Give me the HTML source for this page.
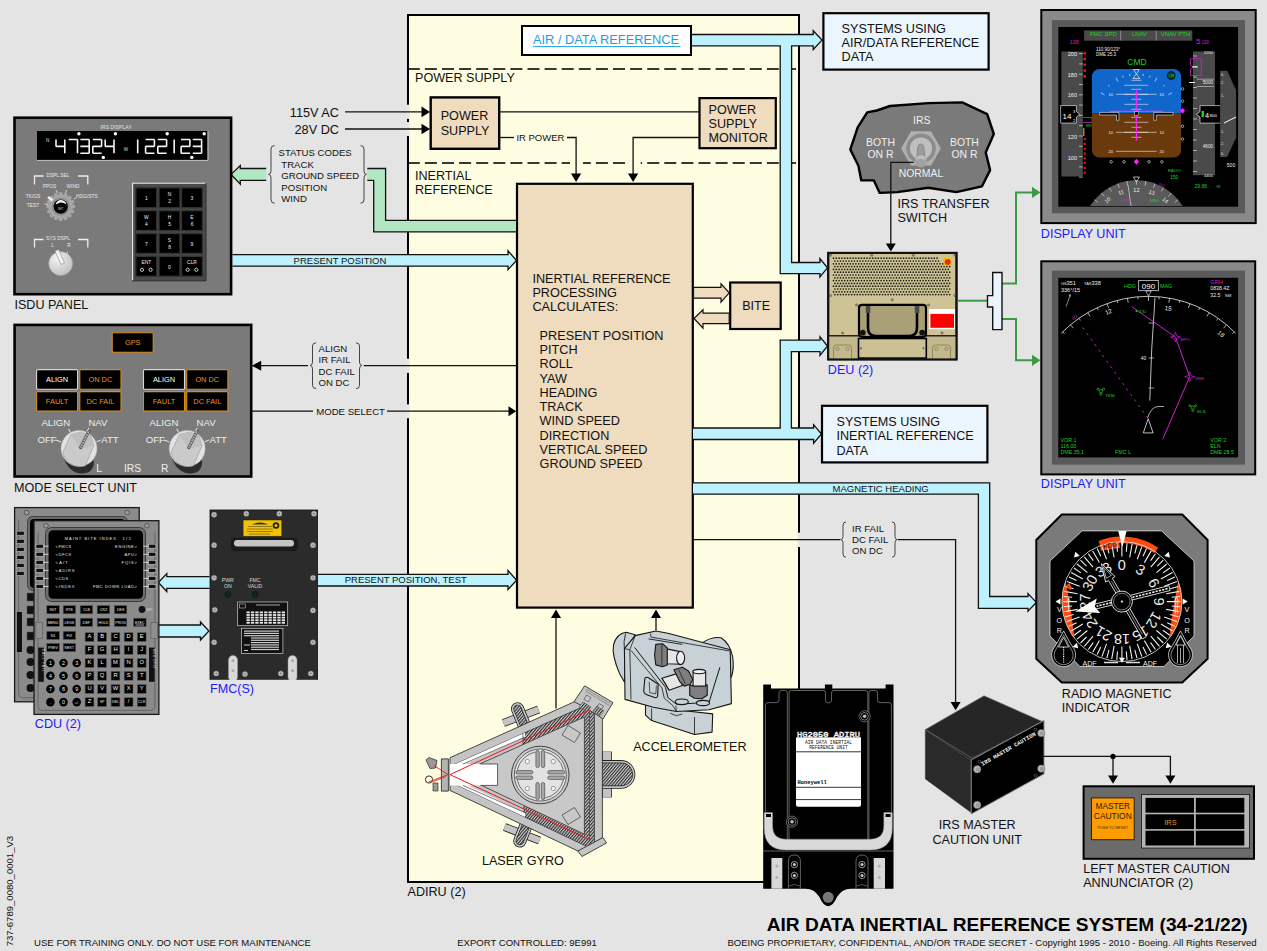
<!DOCTYPE html>
<html><head><meta charset="utf-8">
<style>
html,body{margin:0;padding:0;background:#e4e4e4;}
svg{display:block;}

</style></head>
<body>
<svg width="1267" height="951" viewBox="0 0 1267 951" font-family="&quot;Liberation Sans&quot;, sans-serif">
<rect x="0" y="0" width="1267" height="951" fill="#e4e4e4"/>

<!-- ===== ADIRU BOX ===== -->
<rect x="408" y="15" width="391" height="867" fill="#fffde1" stroke="#000" stroke-width="2"/>
<!-- border gaps -->
<g fill="#e7e7e5">
<rect x="406" y="104.7" width="3.6" height="14.2"/>
<rect x="406" y="122.1" width="3.6" height="13.9"/>
<rect x="406" y="358.7" width="3.6" height="14.2"/>
<rect x="406" y="404.4" width="3.6" height="13.8"/>
<rect x="797.5" y="532.6" width="3.6" height="14.5"/>
</g>
<line x1="409" y1="69" x2="798" y2="69" stroke="#383830" stroke-width="2" stroke-dasharray="12 5.1" stroke-dashoffset="1.2"/>
<line x1="409" y1="163" x2="798" y2="163" stroke="#383830" stroke-width="2" stroke-dasharray="12 5.1" stroke-dashoffset="1.2"/>
<rect x="570" y="161" width="13" height="4" fill="#fffde1"/><rect x="625.8" y="161" width="14.9" height="4" fill="#fffde1"/>
<g font-size="12.6" fill="#111">
<text x="415" y="82.3">POWER SUPPLY</text>
<text x="415" y="179.6">INERTIAL</text>
<text x="415" y="193.5">REFERENCE</text>
<text x="407.5" y="896.3">ADIRU (2)</text>
</g>

<!-- AIR / DATA REFERENCE -->
<rect x="522" y="26" width="169" height="29" fill="#fff" stroke="#000" stroke-width="2"/>
<text x="533" y="43.8" font-size="12.8" fill="#1e9ee0">AIR / DATA REFERENCE</text>
<line x1="533" y1="46.6" x2="680.5" y2="46.6" stroke="#1e9ee0" stroke-width="1"/>

<!-- power supply -->
<rect x="430.7" y="97.4" width="68.5" height="51.4" fill="#efdbbd" stroke="#000" stroke-width="2.4"/>
<g font-size="12.6" fill="#111">
<text x="440.7" y="119.8">POWER</text>
<text x="440.7" y="135">SUPPLY</text>
</g>
<rect x="699.5" y="98.1" width="76.3" height="50.1" fill="#efdbbd" stroke="#000" stroke-width="2.2"/>
<g font-size="12.6" fill="#111">
<text x="708.5" y="113.5">POWER</text>
<text x="708.5" y="127.7">SUPPLY</text>
<text x="708.5" y="141.7">MONITOR</text>
</g>
<line x1="500" y1="111.8" x2="699" y2="111.8" stroke="#111" stroke-width="1.3"/>
<polyline points="500,137.5 514,137.5" fill="none" stroke="#111" stroke-width="1.3"/>
<text x="516.4" y="141" font-size="9.5" fill="#111">IR POWER</text>
<polyline points="567,137.5 576.1,137.5 576.1,174" fill="none" stroke="#111" stroke-width="1.3"/>
<polygon points="571,173.5 581.2,173.5 576.1,182" fill="#000"/>
<polyline points="699,137.5 633.1,137.5 633.1,174" fill="none" stroke="#111" stroke-width="1.3"/>
<polygon points="628,173.5 638.2,173.5 633.1,182" fill="#000"/>

<!-- 115V / 28V -->
<g font-size="12.7" fill="#111" text-anchor="end">
<text x="339" y="116.8">115V AC</text>
<text x="339" y="134">28V DC</text>
</g>
<line x1="345" y1="111.9" x2="422" y2="111.9" stroke="#111" stroke-width="1.3"/>
<polygon points="421.5,106.6 421.5,117.2 430,111.9" fill="#000"/>
<line x1="345" y1="129" x2="422" y2="129" stroke="#111" stroke-width="1.3"/>
<polygon points="421.5,123.7 421.5,134.3 430,129" fill="#000"/>

<!-- main IR box -->
<rect x="517" y="183.8" width="175.8" height="423.8" fill="#efdbbd" stroke="#000" stroke-width="2.2"/>
<g font-size="12.7" fill="#111">
<text x="532.4" y="283.1">INERTIAL REFERENCE</text>
<text x="532.4" y="297.2">PROCESSING</text>
<text x="532.4" y="311.3">CALCULATES:</text>
<text x="539.6" y="339.8">PRESENT POSITION</text>
<text x="539.6" y="354.05">PITCH</text>
<text x="539.6" y="368.3">ROLL</text>
<text x="539.6" y="382.55">YAW</text>
<text x="539.6" y="396.8">HEADING</text>
<text x="539.6" y="411.05">TRACK</text>
<text x="539.6" y="425.3">WIND SPEED</text>
<text x="539.6" y="439.55">DIRECTION</text>
<text x="539.6" y="453.8">VERTICAL SPEED</text>
<text x="539.6" y="468.05">GROUND SPEED</text>
</g>

<!-- BITE -->
<rect x="730.2" y="282.5" width="50.5" height="46.5" fill="#efdbbd" stroke="#000" stroke-width="2.2"/>
<text x="742.2" y="309.7" font-size="12.6" fill="#111">BITE</text>
<polygon points="693.5,287.3 721,287.3 721,283.8 729.2,292.8 721,302.1 721,298.2 693.5,298.2" fill="#efdbbd" stroke="#111" stroke-width="1.2"/>
<polygon points="729.2,313.2 703,313.2 703,309.7 694,318.5 703,328.2 703,323.6 729.2,323.6" fill="#efdbbd" stroke="#111" stroke-width="1.2"/>

<!-- bottom arrows into box -->
<line x1="556" y1="617" x2="556" y2="708.4" stroke="#111" stroke-width="1.3"/>
<polygon points="551,618 561,618 556,609.5" fill="#000"/>
<line x1="656" y1="617" x2="656" y2="630.3" stroke="#111" stroke-width="1.3"/>
<polygon points="651,618 661,618 656,609.5" fill="#000"/>


<!-- ===== BANDS ===== -->
<g fill="#bdf1fd" stroke="#111" stroke-width="1.3" stroke-linejoin="miter">
<path d="M692,34.5 H813.2 V30.7 L822,40.1 L813.2,49.5 V45.8 H791.6 V262.5 H819.9 V258.5 L827.5,267.8 L819.9,277 V273.6 H780.2 V45.8 H692"/>
<path d="M693,428 H780.2 V340.2 H820 V336.8 L827.5,346 L820,355.3 V351.6 H791.4 V428 H813.6 V424.7 L821.5,434 L813.6,443.2 V439.5 H693"/>
<path d="M693,482.8 H989.7 V596.5 H1028 V593.6 L1036.3,602.4 L1028,611.2 V608.4 H978.4 V494.2 H693"/>
<path d="M232.5,254.7 H508 V250.8 L516.5,260.5 L508,269.6 V266.2 H232.5"/>
<path d="M318,574.4 H508 V570.4 L516.6,580.2 L508,589.5 V586 H318"/>
<path d="M209.5,576.7 H166.8 V573.6 L158.4,582.5 L166.8,591.5 V588.3 H209.5"/>
<path d="M159,625 H200.5 V622 L208.9,631 L200.5,640 V637 H159"/>
</g>
<g fill="#b3e6c2" stroke="#111" stroke-width="1.3">
<path d="M266.2,168.5 H240.3 V165.5 L231.1,174.4 L240.3,184.2 V180.4 H266.2"/>
</g>
<path d="M367.3,168.5 H385.6 V220.4 H516 V231.9 H373.7 V180.4 H367.3 Z" fill="#b3e6c2"/>
<path d="M367.3,168.5 H385.6 V220.4 H516 M516,231.9 H373.7 V180.4 H367.3" fill="none" stroke="#111" stroke-width="1.3"/>
<g font-size="9.5" fill="#111">
<text x="293.6" y="263.9">PRESENT POSITION</text>
<text x="344.7" y="583.4">PRESENT POSITION, TEST</text>
<text x="832.6" y="491.9">MAGNETIC HEADING</text>
</g>

<!-- ===== SYSTEMS BOXES ===== -->
<rect x="823.4" y="13.2" width="165.2" height="56.4" fill="#ebf5fd" stroke="#000" stroke-width="2.2"/>
<g font-size="12.7" fill="#111">
<text x="841.6" y="32.7">SYSTEMS USING</text>
<text x="841.6" y="46.9">AIR/DATA REFERENCE</text>
<text x="841.6" y="61.1">DATA</text>
</g>
<rect x="822" y="405.8" width="165.4" height="56.6" fill="#ebf5fd" stroke="#000" stroke-width="2.2"/>
<g font-size="12.6" fill="#111">
<text x="836.5" y="425.5">SYSTEMS USING</text>
<text x="836.5" y="440">INERTIAL REFERENCE</text>
<text x="836.5" y="454.5">DATA</text>
</g>

<!-- ===== LEFT SIGNAL LABELS ===== -->
<g fill="none" stroke="#444" stroke-width="1">
<path d="M274.6,145.6 Q271,145.6 271,149 V171 Q271,174.4 268.5,174.4 Q271,174.4 271,178 V199.8 Q271,203.2 274.6,203.2"/>
<path d="M360.5,145.6 Q364,145.6 364,149 V171 Q364,174.4 366.5,174.4 Q364,174.4 364,178 V199.8 Q364,203.2 360.5,203.2"/>
<path d="M316.2,342.8 Q312.5,342.8 312.5,346 V362 Q312.5,365.4 310,365.4 Q312.5,365.4 312.5,369 V385.4 Q312.5,388.6 316.2,388.6"/>
<path d="M356,342.8 Q359.5,342.8 359.5,346 V362 Q359.5,365.4 362,365.4 Q359.5,365.4 359.5,369 V385.4 Q359.5,388.6 356,388.6"/>
<path d="M846,522 Q843,522 843,525 V536.5 Q843,539.6 840.5,539.6 Q843,539.6 843,542.5 V554 Q843,557.2 846,557.2"/>
<path d="M892,522 Q895,522 895,525 V536.5 Q895,539.6 897.5,539.6 Q895,539.6 895,542.5 V554 Q895,557.2 892,557.2"/>
</g>
<g font-size="9.6" fill="#111">
<text x="278.5" y="156.3">STATUS CODES</text>
<text x="281.3" y="167.7">TRACK</text>
<text x="281.3" y="179.1">GROUND SPEED</text>
<text x="281.3" y="190.5">POSITION</text>
<text x="281.3" y="201.9">WIND</text>
<text x="318.5" y="351.7">ALIGN</text>
<text x="318.5" y="363.1">IR FAIL</text>
<text x="318.5" y="374.9">DC FAIL</text>
<text x="318.5" y="386.4">ON DC</text>
<text x="316.2" y="415.3">MODE SELECT</text>
<text x="852" y="531.7">IR FAIL</text>
<text x="852" y="543">DC FAIL</text>
<text x="852" y="554.4">ON DC</text>
</g>
<g stroke="#111" stroke-width="1.3" fill="none">
<line x1="261" y1="365.7" x2="308" y2="365.7"/>
<line x1="363.8" y1="365.7" x2="516" y2="365.7"/>
<line x1="251.5" y1="411.2" x2="313" y2="411.2"/>
<line x1="387" y1="411.2" x2="509.5" y2="411.2"/>
<line x1="693" y1="539.6" x2="840" y2="539.6"/>
<polyline points="898,539.6 955.6,539.6 955.6,702"/>
</g>
<polygon points="251.8,365.7 261.2,360.7 261.2,370.7" fill="#000"/>
<polygon points="516.2,411.2 508.5,406.2 508.5,416.2" fill="#000"/>
<polygon points="950.6,702 960.6,702 955.6,710.2" fill="#000"/>


<!-- ===== ISDU PANEL ===== -->
<g>
<rect x="14.5" y="117.7" width="216.6" height="176.5" fill="#7a7a7a" stroke="#000" stroke-width="2.6"/>
<text x="116.1" y="128.8" font-size="5.2" fill="#e0e0e0" text-anchor="middle">IRS DISPLAY</text>
<rect x="37" y="131" width="170.6" height="29.4" fill="#000"/>
<path d="M37,160.4 H208 V131" fill="none" stroke="#c8c8c8" stroke-width="1"/>
<path d="M56.00,140.25L56.00,145.65M56.75,146.40L64.05,146.40M64.80,140.25L64.80,145.65M64.80,147.15L64.80,152.55M69.45,139.50L76.75,139.50M77.50,140.25L77.50,145.65M77.50,147.15L77.50,152.55M81.15,139.50L88.45,139.50M89.20,140.25L89.20,145.65M81.15,146.40L88.45,146.40M89.20,147.15L89.20,152.55M81.15,153.30L88.45,153.30M93.55,139.50L100.85,139.50M101.60,140.25L101.60,145.65M93.55,146.40L100.85,146.40M92.80,147.15L92.80,152.55M93.55,153.30L100.85,153.30M105.20,140.25L105.20,145.65M105.95,146.40L113.25,146.40M114.00,140.25L114.00,145.65M114.00,147.15L114.00,152.55M137.70,140.25L137.70,145.65M137.70,147.15L137.70,152.55M146.35,139.50L153.65,139.50M154.40,140.25L154.40,145.65M146.35,146.40L153.65,146.40M145.60,147.15L145.60,152.55M146.35,153.30L153.65,153.30M158.55,139.50L165.85,139.50M166.60,140.25L166.60,145.65M158.55,146.40L165.85,146.40M157.80,147.15L157.80,152.55M158.55,153.30L165.85,153.30M174.20,140.25L174.20,145.65M174.20,147.15L174.20,152.55M181.85,139.50L189.15,139.50M189.90,140.25L189.90,145.65M181.85,146.40L189.15,146.40M181.10,147.15L181.10,152.55M181.85,153.30L189.15,153.30M193.55,139.50L200.85,139.50M201.60,140.25L201.60,145.65M193.55,146.40L200.85,146.40M201.60,147.15L201.60,152.55M193.55,153.30L200.85,153.30" stroke="#f4f4f4" stroke-width="1.6" fill="none" stroke-linecap="square"/>
<circle cx="78.9" cy="133.8" r="1.7" fill="#fff"/>
<circle cx="115.4" cy="133.8" r="1.7" fill="#fff"/>
<circle cx="167.2" cy="133.8" r="1.7" fill="#fff"/>
<circle cx="204.2" cy="133.8" r="1.7" fill="#fff"/>
<circle cx="103.3" cy="157.4" r="1.7" fill="#fff"/>
<circle cx="191.8" cy="157.4" r="1.7" fill="#fff"/>
<text x="47.5" y="142" font-size="4.5" fill="#ddd" text-anchor="middle">N</text>
<text x="125.9" y="151" font-size="4.5" fill="#ddd" text-anchor="middle">W</text>
<rect x="132.3" y="183" width="73.5" height="97.6" fill="#4a4a4a"/>
<path d="M132.6,280.6 V183.3 H205.8" fill="none" stroke="#eaeaea" stroke-width="1.1"/>
<path d="M206,183 V280.8 H132.3" fill="none" stroke="#2a2a2a" stroke-width="1"/>
<rect x="135.8" y="187.8" width="21" height="20" fill="#000" stroke="#333" stroke-width="1.4"/>
<text x="146.3" y="200.0" font-size="5" fill="#eee" text-anchor="middle">1</text>
<rect x="159" y="187.8" width="21" height="20" fill="#000" stroke="#333" stroke-width="1.4"/>
<text x="169.5" y="195.8" font-size="4.9" fill="#eee" text-anchor="middle">N</text>
<text x="169.5" y="203.3" font-size="4.9" fill="#eee" text-anchor="middle">2</text>
<rect x="181.5" y="187.8" width="21" height="20" fill="#000" stroke="#333" stroke-width="1.4"/>
<text x="192.0" y="200.0" font-size="5" fill="#eee" text-anchor="middle">3</text>
<rect x="135.8" y="210.6" width="21" height="20" fill="#000" stroke="#333" stroke-width="1.4"/>
<text x="146.3" y="218.6" font-size="4.9" fill="#eee" text-anchor="middle">W</text>
<text x="146.3" y="226.1" font-size="4.9" fill="#eee" text-anchor="middle">4</text>
<rect x="159" y="210.6" width="21" height="20" fill="#000" stroke="#333" stroke-width="1.4"/>
<text x="169.5" y="218.6" font-size="4.9" fill="#eee" text-anchor="middle">H</text>
<text x="169.5" y="226.1" font-size="4.9" fill="#eee" text-anchor="middle">5</text>
<rect x="181.5" y="210.6" width="21" height="20" fill="#000" stroke="#333" stroke-width="1.4"/>
<text x="192.0" y="218.6" font-size="4.9" fill="#eee" text-anchor="middle">E</text>
<text x="192.0" y="226.1" font-size="4.9" fill="#eee" text-anchor="middle">6</text>
<rect x="135.8" y="233.5" width="21" height="20" fill="#000" stroke="#333" stroke-width="1.4"/>
<text x="146.3" y="245.7" font-size="5" fill="#eee" text-anchor="middle">7</text>
<rect x="159" y="233.5" width="21" height="20" fill="#000" stroke="#333" stroke-width="1.4"/>
<text x="169.5" y="241.5" font-size="4.9" fill="#eee" text-anchor="middle">S</text>
<text x="169.5" y="249.0" font-size="4.9" fill="#eee" text-anchor="middle">8</text>
<rect x="181.5" y="233.5" width="21" height="20" fill="#000" stroke="#333" stroke-width="1.4"/>
<text x="192.0" y="245.7" font-size="5" fill="#eee" text-anchor="middle">9</text>
<rect x="135.8" y="256.3" width="21" height="20" fill="#000" stroke="#333" stroke-width="1.4"/>
<text x="146.3" y="263.8" font-size="4.9" fill="#eee" text-anchor="middle">ENT</text>
<circle cx="142.0" cy="269.8" r="1.6" fill="none" stroke="#ddd" stroke-width="0.9"/>
<circle cx="150.60000000000002" cy="269.8" r="1.6" fill="none" stroke="#ddd" stroke-width="0.9"/>
<rect x="159" y="256.3" width="21" height="20" fill="#000" stroke="#333" stroke-width="1.4"/>
<text x="169.5" y="268.5" font-size="5" fill="#eee" text-anchor="middle">0</text>
<rect x="181.5" y="256.3" width="21" height="20" fill="#000" stroke="#333" stroke-width="1.4"/>
<text x="192.0" y="263.8" font-size="4.9" fill="#eee" text-anchor="middle">CLR</text>
<circle cx="187.7" cy="269.8" r="1.6" fill="none" stroke="#ddd" stroke-width="0.9"/>
<circle cx="196.3" cy="269.8" r="1.6" fill="none" stroke="#ddd" stroke-width="0.9"/>
<g fill="none" stroke="#eee" stroke-width="1.3"><polyline points="34.5,184.5 34.5,176 43.5,176"/><polyline points="78,176 87.8,176 87.8,184.5"/>
<polyline points="34.5,247.5 34.5,239.5 43.5,239.5"/><polyline points="78,239.5 87.8,239.5 87.8,247.5"/></g>
<g font-size="4.9" fill="#e8e8e8" text-anchor="middle">
<text x="58" y="176.7">DSPL SEL</text><text x="49.5" y="187.5">PPOS</text><text x="73" y="187.5">WIND</text>
<text x="33" y="197.5">TK/GS</text><text x="86.8" y="197.5">HDG/STS</text><text x="33" y="206.7">TEST</text>
<text x="58" y="240.2">SYS DSPL</text><text x="52.5" y="246.8">L</text><text x="69" y="246.8">R</text></g>
<circle cx="73.30" cy="206.60" r="2" fill="#a6a6a6"/><circle cx="72.34" cy="211.42" r="2" fill="#a6a6a6"/><circle cx="69.61" cy="215.51" r="2" fill="#a6a6a6"/><circle cx="65.52" cy="218.24" r="2" fill="#a6a6a6"/><circle cx="60.70" cy="219.20" r="2" fill="#a6a6a6"/><circle cx="55.88" cy="218.24" r="2" fill="#a6a6a6"/><circle cx="51.79" cy="215.51" r="2" fill="#a6a6a6"/><circle cx="49.06" cy="211.42" r="2" fill="#a6a6a6"/><circle cx="48.10" cy="206.60" r="2" fill="#a6a6a6"/><circle cx="49.06" cy="201.78" r="2" fill="#a6a6a6"/><circle cx="51.79" cy="197.69" r="2" fill="#a6a6a6"/><circle cx="55.88" cy="194.96" r="2" fill="#a6a6a6"/><circle cx="60.70" cy="194.00" r="2" fill="#a6a6a6"/><circle cx="65.52" cy="194.96" r="2" fill="#a6a6a6"/><circle cx="69.61" cy="197.69" r="2" fill="#a6a6a6"/><circle cx="72.34" cy="201.78" r="2" fill="#a6a6a6"/>
<circle cx="60.7" cy="206.6" r="12" fill="#a6a6a6"/>
<circle cx="60.7" cy="206.6" r="9.2" fill="#8c8c8c"/>
<circle cx="60.7" cy="206.6" r="7.6" fill="#050505" stroke="#c8c8c8" stroke-width="0.6"/>
<path d="M55.5,204.5 Q57,199.5 61.5,200 Q65.5,200.5 66.5,204.5 Q63,202 60.5,202.5 Z" fill="#f0f0f0"/>
<text x="60.7" y="209.5" font-size="2.8" fill="#bbb" text-anchor="middle">BRT</text>
<line x1="52.5" y1="200.5" x2="48" y2="197" stroke="#f2f2f2" stroke-width="2.4"/>
<line x1="56" y1="190" x2="57.5" y2="193" stroke="#eee" stroke-width="0.8"/>
<line x1="66.5" y1="190" x2="65.5" y2="193" stroke="#eee" stroke-width="0.8"/>
<line x1="44.5" y1="203.8" x2="48.3" y2="204.5" stroke="#eee" stroke-width="0.8"/>
<line x1="74" y1="199" x2="76.5" y2="197.5" stroke="#eee" stroke-width="0.8"/>
<defs><radialGradient id="knobg" cx="0.35" cy="0.3" r="0.8"><stop offset="0" stop-color="#f2f2f2"/><stop offset="1" stop-color="#bdbdbd"/></radialGradient></defs>
<circle cx="60.7" cy="263.6" r="12" fill="url(#knobg)" stroke="#999" stroke-width="0.6"/>
<path d="M55,251 L58.5,249.5 L64.5,263 L61,264.5 Z" fill="#f4f4f4" stroke="#888" stroke-width="0.6"/>
<line x1="68" y1="251.5" x2="66.6" y2="254" stroke="#eee" stroke-width="0.8"/>
</g>
<!-- ===== MODE SELECT UNIT ===== -->
<g>
<rect x="14.6" y="324.9" width="236.6" height="151.6" fill="#7a7a7a" stroke="#000" stroke-width="2.6"/>
<rect x="112.2" y="332.8" width="40.999999999999986" height="19.5" rx="1" fill="#000" stroke="#d98a1c" stroke-width="1.1"/><text x="132.7" y="345.2" font-size="7.4" fill="#e8941e" text-anchor="middle">GPS</text>
<rect x="36.6" y="369.6" width="40.99999999999999" height="19.599999999999966" rx="1" fill="#000" stroke="#d8d8d8" stroke-width="1.1"/><text x="57.1" y="382.1" font-size="7.4" fill="#fff" text-anchor="middle">ALIGN</text>
<rect x="79.80000000000001" y="369.6" width="41.19999999999999" height="19.599999999999966" rx="1" fill="#000" stroke="#d98a1c" stroke-width="1.1"/><text x="100.4" y="382.1" font-size="7.4" fill="#e8941e" text-anchor="middle">ON DC</text>
<rect x="36.6" y="391.6" width="40.99999999999999" height="19.399999999999977" rx="1" fill="#000" stroke="#d98a1c" stroke-width="1.1"/><text x="57.1" y="404.0" font-size="7.4" fill="#e8941e" text-anchor="middle">FAULT</text>
<rect x="79.80000000000001" y="391.6" width="41.19999999999999" height="19.399999999999977" rx="1" fill="#000" stroke="#d98a1c" stroke-width="1.1"/><text x="100.4" y="404.0" font-size="7.4" fill="#e8941e" text-anchor="middle">DC FAIL</text>
<rect x="143.5" y="369.6" width="41.0" height="19.599999999999966" rx="1" fill="#000" stroke="#d8d8d8" stroke-width="1.1"/><text x="164.0" y="382.1" font-size="7.4" fill="#fff" text-anchor="middle">ALIGN</text>
<rect x="186.7" y="369.6" width="41.20000000000002" height="19.599999999999966" rx="1" fill="#000" stroke="#d98a1c" stroke-width="1.1"/><text x="207.3" y="382.1" font-size="7.4" fill="#e8941e" text-anchor="middle">ON DC</text>
<rect x="143.5" y="391.6" width="41.0" height="19.399999999999977" rx="1" fill="#000" stroke="#d98a1c" stroke-width="1.1"/><text x="164.0" y="404.0" font-size="7.4" fill="#e8941e" text-anchor="middle">FAULT</text>
<rect x="186.7" y="391.6" width="41.20000000000002" height="19.399999999999977" rx="1" fill="#000" stroke="#d98a1c" stroke-width="1.1"/><text x="207.3" y="404.0" font-size="7.4" fill="#e8941e" text-anchor="middle">DC FAIL</text>
<defs><linearGradient id="msuk" x1="0" y1="0" x2="1" y2="1"><stop offset="0" stop-color="#ececec"/><stop offset="1" stop-color="#c4c4c4"/></linearGradient></defs>
<path d="M63,456.4 Q69,473.4 82,473.4 Q93,473.4 94,462.4 L91,454.4 Z" fill="#2c2c2c"/>
<circle cx="79" cy="448.4" r="18" fill="#e2e2e2" stroke="#b0b0b0" stroke-width="0.5"/>
<path d="M62.8,452.59999999999997 L71,434.5 L81.3,432.09999999999997 L90.8,435.29999999999995 L93.9,445.5 L85.2,465.9 A18,18 0 0 1 62.8,452.59999999999997 Z" fill="#cacaca" stroke="#8a8a8a" stroke-width="0.5"/>
<path d="M71,434.5 L81.3,432.09999999999997 L90.8,435.29999999999995 L93.9,445.5 L80.5,449.0 Z" fill="#bfbfbf"/>
<path d="M79.2,447.9 L88.2,429.9 L90.2,430.9 L81.2,448.9 Z" fill="#f4f4f4" stroke="#222" stroke-width="0.7"/>
<line x1="80.2" y1="448.4" x2="89.2" y2="430.4" stroke="#111" stroke-width="1" stroke-dasharray="1 0.8"/>
<g font-size="9.6" fill="#eee"><text x="41.4" y="426.2">ALIGN</text><text x="88.4" y="426.2">NAV</text><text x="37.5" y="442.79999999999995">OFF</text><text x="101.3" y="442.79999999999995">ATT</text></g>
<g stroke="#eee" stroke-width="1"><line x1="68.5" y1="428.9" x2="70.5" y2="432.4"/><line x1="88.8" y1="427.9" x2="87.2" y2="431.4"/><line x1="55.5" y1="439.9" x2="61" y2="441.9"/><line x1="101" y1="439.9" x2="96.5" y2="441.9"/></g>
<path d="M171.2,456.4 Q177.2,473.4 190.2,473.4 Q201.2,473.4 202.2,462.4 L199.2,454.4 Z" fill="#2c2c2c"/>
<circle cx="187.2" cy="448.4" r="18" fill="#e2e2e2" stroke="#b0b0b0" stroke-width="0.5"/>
<path d="M171.0,452.59999999999997 L179.2,434.5 L189.5,432.09999999999997 L199.0,435.29999999999995 L202.1,445.5 L193.39999999999998,465.9 A18,18 0 0 1 171.0,452.59999999999997 Z" fill="#cacaca" stroke="#8a8a8a" stroke-width="0.5"/>
<path d="M179.2,434.5 L189.5,432.09999999999997 L199.0,435.29999999999995 L202.1,445.5 L188.7,449.0 Z" fill="#bfbfbf"/>
<path d="M187.39999999999998,447.9 L196.39999999999998,429.9 L198.39999999999998,430.9 L189.39999999999998,448.9 Z" fill="#f4f4f4" stroke="#222" stroke-width="0.7"/>
<line x1="188.39999999999998" y1="448.4" x2="197.39999999999998" y2="430.4" stroke="#111" stroke-width="1" stroke-dasharray="1 0.8"/>
<g font-size="9.6" fill="#eee"><text x="149.6" y="426.2">ALIGN</text><text x="196.6" y="426.2">NAV</text><text x="145.7" y="442.79999999999995">OFF</text><text x="209.5" y="442.79999999999995">ATT</text></g>
<g stroke="#eee" stroke-width="1"><line x1="176.7" y1="428.9" x2="178.7" y2="432.4"/><line x1="197.0" y1="427.9" x2="195.39999999999998" y2="431.4"/><line x1="163.7" y1="439.9" x2="169.2" y2="441.9"/><line x1="209.2" y1="439.9" x2="204.7" y2="441.9"/></g>
<g font-size="10.3" fill="#eee"><text x="96.3" y="472">L</text><text x="124" y="472">IRS</text><text x="161" y="472">R</text></g>
</g>
<!-- ===== CDU ===== -->
<g>
<rect x="14.6" y="507.6" width="124.6" height="194.19999999999993" fill="#8b8b8b" stroke="#1a1a1a" stroke-width="1.3"/>
<path d="M18.6,519.6 V693.8 Q18.6,697.8 22.6,697.8 H131.2 Q135.2,697.8 135.2,693.8 V519.6" fill="none" stroke="#555" stroke-width="0.7"/>
<circle cx="26.6" cy="512.6" r="2.3" fill="#9a9a9a" stroke="#333" stroke-width="0.6"/>
<circle cx="127.19999999999999" cy="512.6" r="2.3" fill="#9a9a9a" stroke="#333" stroke-width="0.6"/>
<rect x="27.5" y="516.5" width="100" height="74" rx="5" fill="#6a6a6a" stroke="#333" stroke-width="0.8"/>
<rect x="30" y="519" width="95" height="69" rx="4" fill="#000"/>
<rect x="16.8" y="531.2" width="7.4" height="4" fill="#111" stroke="#bbb" stroke-width="0.6"/>
<rect x="16.8" y="539.25" width="7.4" height="4" fill="#111" stroke="#bbb" stroke-width="0.6"/>
<rect x="16.8" y="547.3000000000001" width="7.4" height="4" fill="#111" stroke="#bbb" stroke-width="0.6"/>
<rect x="16.8" y="555.35" width="7.4" height="4" fill="#111" stroke="#bbb" stroke-width="0.6"/>
<rect x="16.8" y="563.4000000000001" width="7.4" height="4" fill="#111" stroke="#bbb" stroke-width="0.6"/>
<rect x="16.8" y="571.45" width="7.4" height="4" fill="#111" stroke="#bbb" stroke-width="0.6"/>
<rect x="27" y="593" width="7" height="8" fill="#111" stroke="#555" stroke-width="0.5"/>
<rect x="27" y="606" width="7" height="8" fill="#111" stroke="#555" stroke-width="0.5"/>
<rect x="27" y="618" width="7" height="8" fill="#111" stroke="#555" stroke-width="0.5"/>
<rect x="27" y="632" width="7" height="8" fill="#111" stroke="#555" stroke-width="0.5"/>
<circle cx="30.5" cy="650" r="4" fill="#111"/>
<circle cx="30.5" cy="662" r="4" fill="#111"/>
<circle cx="30.5" cy="675" r="4" fill="#111"/>
<circle cx="30.5" cy="688" r="4" fill="#111"/>
<rect x="17" y="612" width="5" height="40" fill="#111"/>
<rect x="34" y="520.7" width="124.9" height="193.69999999999993" fill="#8b8b8b" stroke="#1a1a1a" stroke-width="1.3"/>
<path d="M38,532.7 V706.4 Q38,710.4 42,710.4 H150.9 Q154.9,710.4 154.9,706.4 V532.7" fill="none" stroke="#555" stroke-width="0.7"/>
<circle cx="46" cy="525.7" r="2.3" fill="#9a9a9a" stroke="#333" stroke-width="0.6"/>
<circle cx="146.9" cy="525.7" r="2.3" fill="#9a9a9a" stroke="#333" stroke-width="0.6"/>
<rect x="45.5" y="527.5" width="100" height="74" rx="6" fill="#6e6e6e" stroke="#2a2a2a" stroke-width="0.8"/>
<rect x="48.5" y="530.3" width="94.5" height="68.5" rx="4.5" fill="#000"/>
<rect x="36" y="544.2" width="7.4" height="4" fill="#111" stroke="#ccc" stroke-width="0.6"/>
<rect x="148.5" y="544.2" width="7.4" height="4" fill="#111" stroke="#ccc" stroke-width="0.6"/>
<rect x="36" y="552.25" width="7.4" height="4" fill="#111" stroke="#ccc" stroke-width="0.6"/>
<rect x="148.5" y="552.25" width="7.4" height="4" fill="#111" stroke="#ccc" stroke-width="0.6"/>
<rect x="36" y="560.3000000000001" width="7.4" height="4" fill="#111" stroke="#ccc" stroke-width="0.6"/>
<rect x="148.5" y="560.3000000000001" width="7.4" height="4" fill="#111" stroke="#ccc" stroke-width="0.6"/>
<rect x="36" y="568.35" width="7.4" height="4" fill="#111" stroke="#ccc" stroke-width="0.6"/>
<rect x="148.5" y="568.35" width="7.4" height="4" fill="#111" stroke="#ccc" stroke-width="0.6"/>
<rect x="36" y="576.4000000000001" width="7.4" height="4" fill="#111" stroke="#ccc" stroke-width="0.6"/>
<rect x="148.5" y="576.4000000000001" width="7.4" height="4" fill="#111" stroke="#ccc" stroke-width="0.6"/>
<rect x="36" y="584.45" width="7.4" height="4" fill="#111" stroke="#ccc" stroke-width="0.6"/>
<rect x="148.5" y="584.45" width="7.4" height="4" fill="#111" stroke="#ccc" stroke-width="0.6"/>
<g font-size="4" fill="#e4e4e4">
<text x="64.7" y="539.8" textLength="51.3" lengthAdjust="spacing">MAINT BITE INDEX</text><text x="122.5" y="539.8" textLength="8.6" lengthAdjust="spacing">1/1</text>
<text x="55.6" y="548.0" textLength="15.6" lengthAdjust="spacing">&lt;FMCS</text>
<text x="115.1" y="548.0" textLength="21.7" lengthAdjust="spacing">ENGINE&gt;</text>
<text x="55.6" y="556.0" textLength="15.6" lengthAdjust="spacing">&lt;DFCS</text>
<text x="124.6" y="556.0" textLength="12.2" lengthAdjust="spacing">APU&gt;</text>
<text x="55.6" y="564.0" textLength="12.2" lengthAdjust="spacing">&lt;A/T</text>
<text x="121.6" y="564.0" textLength="15.2" lengthAdjust="spacing">FQIS&gt;</text>
<text x="55.6" y="572.0" textLength="18.7" lengthAdjust="spacing">&lt;ADIRS</text>
<text x="55.6" y="580.0" textLength="12.6" lengthAdjust="spacing">&lt;CDS</text>
<text x="55.6" y="588.0" textLength="18.7" lengthAdjust="spacing">&lt;INDEX</text>
<text x="93.0" y="588.0" textLength="43.8" lengthAdjust="spacing">FMC DOWN LOAD&gt;</text>
</g>
<line x1="43.5" y1="546.2" x2="48.5" y2="546.2" stroke="#eee" stroke-width="0.8"/><line x1="143.5" y1="546.2" x2="148.5" y2="546.2" stroke="#eee" stroke-width="0.8"/>
<line x1="43.5" y1="554.25" x2="48.5" y2="554.25" stroke="#eee" stroke-width="0.8"/><line x1="143.5" y1="554.25" x2="148.5" y2="554.25" stroke="#eee" stroke-width="0.8"/>
<line x1="43.5" y1="562.3000000000001" x2="48.5" y2="562.3000000000001" stroke="#eee" stroke-width="0.8"/><line x1="143.5" y1="562.3000000000001" x2="148.5" y2="562.3000000000001" stroke="#eee" stroke-width="0.8"/>
<line x1="43.5" y1="570.35" x2="48.5" y2="570.35" stroke="#eee" stroke-width="0.8"/><line x1="143.5" y1="570.35" x2="148.5" y2="570.35" stroke="#eee" stroke-width="0.8"/>
<line x1="43.5" y1="578.4000000000001" x2="48.5" y2="578.4000000000001" stroke="#eee" stroke-width="0.8"/><line x1="143.5" y1="578.4000000000001" x2="148.5" y2="578.4000000000001" stroke="#eee" stroke-width="0.8"/>
<line x1="43.5" y1="586.45" x2="48.5" y2="586.45" stroke="#eee" stroke-width="0.8"/><line x1="143.5" y1="586.45" x2="148.5" y2="586.45" stroke="#eee" stroke-width="0.8"/>
<rect x="46.8" y="605.6" width="12.5" height="8.2" fill="#000" stroke="#5a5a5a" stroke-width="0.6"/><text x="53.0" y="611.0" font-size="3.6" fill="#f4f4f4" text-anchor="middle">INIT</text>
<rect x="63.2" y="605.6" width="12.5" height="8.2" fill="#000" stroke="#5a5a5a" stroke-width="0.6"/><text x="69.4" y="611.0" font-size="3.6" fill="#f4f4f4" text-anchor="middle">RTE</text>
<rect x="80.2" y="605.6" width="12.5" height="8.2" fill="#000" stroke="#5a5a5a" stroke-width="0.6"/><text x="86.5" y="611.0" font-size="3.6" fill="#f4f4f4" text-anchor="middle">CLB</text>
<rect x="97.2" y="605.6" width="12.5" height="8.2" fill="#000" stroke="#5a5a5a" stroke-width="0.6"/><text x="103.4" y="611.0" font-size="3.6" fill="#f4f4f4" text-anchor="middle">CRZ</text>
<rect x="114.3" y="605.6" width="12.5" height="8.2" fill="#000" stroke="#5a5a5a" stroke-width="0.6"/><text x="120.6" y="611.0" font-size="3.6" fill="#f4f4f4" text-anchor="middle">DES</text>
<circle cx="142" cy="609.5" r="3.4" fill="#111"/><text x="149.5" y="610.7" font-size="3" fill="#ddd" text-anchor="middle">BRT</text>
<rect x="46.8" y="618.2" width="12.5" height="8.2" fill="#000" stroke="#5a5a5a" stroke-width="0.6"/><text x="53.0" y="623.6" font-size="3.6" fill="#f4f4f4" text-anchor="middle">MENU</text>
<rect x="63.2" y="618.2" width="12.5" height="8.2" fill="#000" stroke="#5a5a5a" stroke-width="0.6"/><text x="69.4" y="623.6" font-size="3.6" fill="#f4f4f4" text-anchor="middle">LEGS</text>
<rect x="80.2" y="618.2" width="12.5" height="8.2" fill="#000" stroke="#5a5a5a" stroke-width="0.6"/><text x="86.5" y="623.6" font-size="3.6" fill="#f4f4f4" text-anchor="middle">DEP</text>
<rect x="97.2" y="618.2" width="12.5" height="8.2" fill="#000" stroke="#5a5a5a" stroke-width="0.6"/><text x="103.4" y="623.6" font-size="3.6" fill="#f4f4f4" text-anchor="middle">HOLD</text>
<rect x="114.3" y="618.2" width="12.5" height="8.2" fill="#000" stroke="#5a5a5a" stroke-width="0.6"/><text x="120.6" y="623.6" font-size="3.6" fill="#f4f4f4" text-anchor="middle">PROG</text>
<rect x="133.6" y="618.2" width="12.5" height="8.2" fill="#000" stroke="#5a5a5a" stroke-width="0.6"/><text x="139.8" y="623.6" font-size="3.6" fill="#f4f4f4" text-anchor="middle">EXEC</text>
<line x1="135.5" y1="625" x2="144" y2="625" stroke="#eee" stroke-width="0.7"/>
<rect x="46.8" y="631.3" width="12.5" height="8.2" fill="#000" stroke="#5a5a5a" stroke-width="0.6"/><text x="53.0" y="636.7" font-size="3.6" fill="#f4f4f4" text-anchor="middle">N1</text>
<rect x="63.2" y="631.3" width="12.5" height="8.2" fill="#000" stroke="#5a5a5a" stroke-width="0.6"/><text x="69.4" y="636.7" font-size="3.6" fill="#f4f4f4" text-anchor="middle">FIX</text>
<rect x="46.8" y="643.4" width="12.5" height="8.2" fill="#000" stroke="#5a5a5a" stroke-width="0.6"/><text x="53.0" y="648.8" font-size="3.6" fill="#f4f4f4" text-anchor="middle">PREV</text>
<rect x="63.2" y="643.4" width="12.5" height="8.2" fill="#000" stroke="#5a5a5a" stroke-width="0.6"/><text x="69.4" y="648.8" font-size="3.6" fill="#f4f4f4" text-anchor="middle">NEXT</text>
<rect x="85.1" y="632.7" width="8.8" height="8.8" fill="#000" stroke="#5a5a5a" stroke-width="0.6"/><text x="89.5" y="638.4" font-size="5.8" fill="#f4f4f4" text-anchor="middle">A</text>
<rect x="97.7" y="632.7" width="8.8" height="8.8" fill="#000" stroke="#5a5a5a" stroke-width="0.6"/><text x="102.1" y="638.4" font-size="5.8" fill="#f4f4f4" text-anchor="middle">B</text>
<rect x="111.1" y="632.7" width="8.8" height="8.8" fill="#000" stroke="#5a5a5a" stroke-width="0.6"/><text x="115.5" y="638.4" font-size="5.8" fill="#f4f4f4" text-anchor="middle">C</text>
<rect x="124.2" y="632.7" width="8.8" height="8.8" fill="#000" stroke="#5a5a5a" stroke-width="0.6"/><text x="128.6" y="638.4" font-size="5.8" fill="#f4f4f4" text-anchor="middle">D</text>
<rect x="137.3" y="632.7" width="8.8" height="8.8" fill="#000" stroke="#5a5a5a" stroke-width="0.6"/><text x="141.7" y="638.4" font-size="5.8" fill="#f4f4f4" text-anchor="middle">E</text>
<rect x="85.1" y="645.5" width="8.8" height="8.8" fill="#000" stroke="#5a5a5a" stroke-width="0.6"/><text x="89.5" y="651.2" font-size="5.8" fill="#f4f4f4" text-anchor="middle">F</text>
<rect x="97.7" y="645.5" width="8.8" height="8.8" fill="#000" stroke="#5a5a5a" stroke-width="0.6"/><text x="102.1" y="651.2" font-size="5.8" fill="#f4f4f4" text-anchor="middle">G</text>
<rect x="111.1" y="645.5" width="8.8" height="8.8" fill="#000" stroke="#5a5a5a" stroke-width="0.6"/><text x="115.5" y="651.2" font-size="5.8" fill="#f4f4f4" text-anchor="middle">H</text>
<rect x="124.2" y="645.5" width="8.8" height="8.8" fill="#000" stroke="#5a5a5a" stroke-width="0.6"/><text x="128.6" y="651.2" font-size="5.8" fill="#f4f4f4" text-anchor="middle">I</text>
<rect x="137.3" y="645.5" width="8.8" height="8.8" fill="#000" stroke="#5a5a5a" stroke-width="0.6"/><text x="141.7" y="651.2" font-size="5.8" fill="#f4f4f4" text-anchor="middle">J</text>
<rect x="85.1" y="658.6" width="8.8" height="8.8" fill="#000" stroke="#5a5a5a" stroke-width="0.6"/><text x="89.5" y="664.3" font-size="5.8" fill="#f4f4f4" text-anchor="middle">K</text>
<rect x="97.7" y="658.6" width="8.8" height="8.8" fill="#000" stroke="#5a5a5a" stroke-width="0.6"/><text x="102.1" y="664.3" font-size="5.8" fill="#f4f4f4" text-anchor="middle">L</text>
<rect x="111.1" y="658.6" width="8.8" height="8.8" fill="#000" stroke="#5a5a5a" stroke-width="0.6"/><text x="115.5" y="664.3" font-size="5.8" fill="#f4f4f4" text-anchor="middle">M</text>
<rect x="124.2" y="658.6" width="8.8" height="8.8" fill="#000" stroke="#5a5a5a" stroke-width="0.6"/><text x="128.6" y="664.3" font-size="5.8" fill="#f4f4f4" text-anchor="middle">N</text>
<rect x="137.3" y="658.6" width="8.8" height="8.8" fill="#000" stroke="#5a5a5a" stroke-width="0.6"/><text x="141.7" y="664.3" font-size="5.8" fill="#f4f4f4" text-anchor="middle">O</text>
<rect x="85.1" y="671.4" width="8.8" height="8.8" fill="#000" stroke="#5a5a5a" stroke-width="0.6"/><text x="89.5" y="677.1" font-size="5.8" fill="#f4f4f4" text-anchor="middle">P</text>
<rect x="97.7" y="671.4" width="8.8" height="8.8" fill="#000" stroke="#5a5a5a" stroke-width="0.6"/><text x="102.1" y="677.1" font-size="5.8" fill="#f4f4f4" text-anchor="middle">Q</text>
<rect x="111.1" y="671.4" width="8.8" height="8.8" fill="#000" stroke="#5a5a5a" stroke-width="0.6"/><text x="115.5" y="677.1" font-size="5.8" fill="#f4f4f4" text-anchor="middle">R</text>
<rect x="124.2" y="671.4" width="8.8" height="8.8" fill="#000" stroke="#5a5a5a" stroke-width="0.6"/><text x="128.6" y="677.1" font-size="5.8" fill="#f4f4f4" text-anchor="middle">S</text>
<rect x="137.3" y="671.4" width="8.8" height="8.8" fill="#000" stroke="#5a5a5a" stroke-width="0.6"/><text x="141.7" y="677.1" font-size="5.8" fill="#f4f4f4" text-anchor="middle">T</text>
<rect x="85.1" y="684.6" width="8.8" height="8.8" fill="#000" stroke="#5a5a5a" stroke-width="0.6"/><text x="89.5" y="690.3" font-size="5.8" fill="#f4f4f4" text-anchor="middle">U</text>
<rect x="97.7" y="684.6" width="8.8" height="8.8" fill="#000" stroke="#5a5a5a" stroke-width="0.6"/><text x="102.1" y="690.3" font-size="5.8" fill="#f4f4f4" text-anchor="middle">V</text>
<rect x="111.1" y="684.6" width="8.8" height="8.8" fill="#000" stroke="#5a5a5a" stroke-width="0.6"/><text x="115.5" y="690.3" font-size="5.8" fill="#f4f4f4" text-anchor="middle">W</text>
<rect x="124.2" y="684.6" width="8.8" height="8.8" fill="#000" stroke="#5a5a5a" stroke-width="0.6"/><text x="128.6" y="690.3" font-size="5.8" fill="#f4f4f4" text-anchor="middle">X</text>
<rect x="137.3" y="684.6" width="8.8" height="8.8" fill="#000" stroke="#5a5a5a" stroke-width="0.6"/><text x="141.7" y="690.3" font-size="5.8" fill="#f4f4f4" text-anchor="middle">Y</text>
<rect x="85.1" y="697.7" width="8.8" height="8.8" fill="#000" stroke="#5a5a5a" stroke-width="0.6"/><text x="89.5" y="703.4" font-size="5.8" fill="#f4f4f4" text-anchor="middle">Z</text>
<rect x="97.7" y="697.7" width="8.8" height="8.8" fill="#000" stroke="#5a5a5a" stroke-width="0.6"/><text x="102.1" y="703.4" font-size="3.6" fill="#f4f4f4" text-anchor="middle">SP</text>
<rect x="111.1" y="697.7" width="8.8" height="8.8" fill="#000" stroke="#5a5a5a" stroke-width="0.6"/><text x="115.5" y="703.4" font-size="3.6" fill="#f4f4f4" text-anchor="middle">DEL</text>
<rect x="124.2" y="697.7" width="8.8" height="8.8" fill="#000" stroke="#5a5a5a" stroke-width="0.6"/><text x="128.6" y="703.4" font-size="5.8" fill="#f4f4f4" text-anchor="middle">/</text>
<rect x="137.3" y="697.7" width="8.8" height="8.8" fill="#000" stroke="#5a5a5a" stroke-width="0.6"/><text x="141.7" y="703.4" font-size="3.6" fill="#f4f4f4" text-anchor="middle">CLR</text>
<circle cx="50.4" cy="663" r="4.3" fill="#000"/>
<text x="50.4" y="665" font-size="5.4" fill="#eee" text-anchor="middle">1</text>
<circle cx="63.5" cy="663" r="4.3" fill="#000"/>
<text x="63.5" y="665" font-size="5.4" fill="#eee" text-anchor="middle">2</text>
<circle cx="76.7" cy="663" r="4.3" fill="#000"/>
<text x="76.7" y="665" font-size="5.4" fill="#eee" text-anchor="middle">3</text>
<circle cx="50.4" cy="675.8" r="4.3" fill="#000"/>
<text x="50.4" y="677.8" font-size="5.4" fill="#eee" text-anchor="middle">4</text>
<circle cx="63.5" cy="675.8" r="4.3" fill="#000"/>
<text x="63.5" y="677.8" font-size="5.4" fill="#eee" text-anchor="middle">5</text>
<circle cx="76.7" cy="675.8" r="4.3" fill="#000"/>
<text x="76.7" y="677.8" font-size="5.4" fill="#eee" text-anchor="middle">6</text>
<circle cx="50.4" cy="689" r="4.3" fill="#000"/>
<text x="50.4" y="691" font-size="5.4" fill="#eee" text-anchor="middle">7</text>
<circle cx="63.5" cy="689" r="4.3" fill="#000"/>
<text x="63.5" y="691" font-size="5.4" fill="#eee" text-anchor="middle">8</text>
<circle cx="76.7" cy="689" r="4.3" fill="#000"/>
<text x="76.7" y="691" font-size="5.4" fill="#eee" text-anchor="middle">9</text>
<circle cx="50.4" cy="702.1" r="4.3" fill="#000"/>
<text x="50.4" y="704.1" font-size="5.4" fill="#eee" text-anchor="middle">.</text>
<circle cx="63.5" cy="702.1" r="4.3" fill="#000"/>
<text x="63.5" y="704.1" font-size="5.4" fill="#eee" text-anchor="middle">0</text>
<circle cx="76.7" cy="702.1" r="4.3" fill="#000"/>
<text x="76.7" y="704.1" font-size="3.4" fill="#eee" text-anchor="middle">+/-</text>
<rect x="38.2" y="647.6" width="5.6" height="34.2" fill="#111"/><text transform="translate(41.8,649) rotate(90)" font-size="3" fill="#ddd" letter-spacing="1">CALL FAIL</text>
<rect x="149" y="647.6" width="5.6" height="34.2" fill="#111"/><text transform="translate(152.8,649) rotate(90)" font-size="3" fill="#ddd" letter-spacing="0.6">MSG OFST</text>
<rect x="35.9" y="622.6" width="6.6" height="15.8" fill="#8e8e8e" stroke="#555" stroke-width="0.6"/><rect x="150.9" y="622.6" width="6.6" height="15.8" fill="#8e8e8e" stroke="#555" stroke-width="0.6"/>
</g>
<!-- ===== FMC ===== -->
<g>
<rect x="210" y="510" width="107.6" height="169.8" fill="#2b2b2b" stroke="#111" stroke-width="0.8"/>
<circle cx="214.1" cy="514.7" r="2.6" fill="#cfcfcf" stroke="#777" stroke-width="0.5"/><path d="M212.3,514.7H215.9M214.1,512.9V516.5" stroke="#666" stroke-width="0.6"/>
<circle cx="246.3" cy="513.7" r="2.6" fill="#cfcfcf" stroke="#777" stroke-width="0.5"/><path d="M244.5,513.7H248.1M246.3,511.9V515.5" stroke="#666" stroke-width="0.6"/>
<circle cx="279.3" cy="513.7" r="2.6" fill="#cfcfcf" stroke="#777" stroke-width="0.5"/><path d="M277.5,513.7H281.1M279.3,511.9V515.5" stroke="#666" stroke-width="0.6"/>
<circle cx="314.0" cy="513.7" r="2.6" fill="#cfcfcf" stroke="#777" stroke-width="0.5"/><path d="M312.2,513.7H315.8M314.0,511.9V515.5" stroke="#666" stroke-width="0.6"/>
<circle cx="214.1" cy="545.2" r="2.6" fill="#cfcfcf" stroke="#777" stroke-width="0.5"/><path d="M212.3,545.2H215.9M214.1,543.4V547.0" stroke="#666" stroke-width="0.6"/>
<circle cx="313.0" cy="545.2" r="2.6" fill="#cfcfcf" stroke="#777" stroke-width="0.5"/><path d="M311.2,545.2H314.8M313.0,543.4V547.0" stroke="#666" stroke-width="0.6"/>
<circle cx="214.1" cy="577.8" r="2.6" fill="#cfcfcf" stroke="#777" stroke-width="0.5"/><path d="M212.3,577.8H215.9M214.1,576.0V579.6" stroke="#666" stroke-width="0.6"/>
<circle cx="313.0" cy="577.8" r="2.6" fill="#cfcfcf" stroke="#777" stroke-width="0.5"/><path d="M311.2,577.8H314.8M313.0,576.0V579.6" stroke="#666" stroke-width="0.6"/>
<circle cx="214.8" cy="609.8" r="2.6" fill="#cfcfcf" stroke="#777" stroke-width="0.5"/><path d="M213.0,609.8H216.6M214.8,608.0V611.6" stroke="#666" stroke-width="0.6"/>
<circle cx="313.0" cy="610.4" r="2.6" fill="#cfcfcf" stroke="#777" stroke-width="0.5"/><path d="M311.2,610.4H314.8M313.0,608.6V612.2" stroke="#666" stroke-width="0.6"/>
<circle cx="214.1" cy="642.3" r="2.6" fill="#cfcfcf" stroke="#777" stroke-width="0.5"/><path d="M212.3,642.3H215.9M214.1,640.5V644.1" stroke="#666" stroke-width="0.6"/>
<circle cx="313.0" cy="642.3" r="2.6" fill="#cfcfcf" stroke="#777" stroke-width="0.5"/><path d="M311.2,642.3H314.8M313.0,640.5V644.1" stroke="#666" stroke-width="0.6"/>
<circle cx="216.2" cy="673.5" r="2.6" fill="#cfcfcf" stroke="#777" stroke-width="0.5"/><path d="M214.4,673.5H218.0M216.2,671.7V675.3" stroke="#666" stroke-width="0.6"/>
<circle cx="245.0" cy="674.1" r="2.6" fill="#cfcfcf" stroke="#777" stroke-width="0.5"/><path d="M243.2,674.1H246.8M245.0,672.3V675.9" stroke="#666" stroke-width="0.6"/>
<circle cx="280.8" cy="673.5" r="2.6" fill="#cfcfcf" stroke="#777" stroke-width="0.5"/><path d="M279.0,673.5H282.6M280.8,671.7V675.3" stroke="#666" stroke-width="0.6"/>
<circle cx="310.8" cy="673.5" r="2.6" fill="#cfcfcf" stroke="#777" stroke-width="0.5"/><path d="M309.0,673.5H312.6M310.8,671.7V675.3" stroke="#666" stroke-width="0.6"/>
<rect x="243.1" y="520" width="38.7" height="16.2" fill="#f2c200" stroke="#222" stroke-width="0.5"/>
<g stroke="#333" stroke-width="0.5"><line x1="248" y1="526.5" x2="272" y2="526.5"/><line x1="247" y1="529" x2="273" y2="529"/><line x1="247" y1="531.5" x2="273" y2="531.5"/><line x1="249" y1="534" x2="270" y2="534"/></g>
<path d="M252,524.5 Q260,520.5 268,524.5 Z" fill="#333"/><circle cx="276" cy="525.5" r="3.3" fill="#222"/><circle cx="276" cy="525.5" r="1.5" fill="#f2c200"/>
<rect x="231" y="537.8" width="66.8" height="13.2" rx="4" fill="#1a1a1a"/>
<rect x="234" y="540" width="60" height="6.5" rx="3.2" fill="#c4c4c4"/>
<g font-size="5.2" fill="#d8d8d8" text-anchor="middle"><text x="227.8" y="581.7">PWR</text><text x="227.8" y="588">ON</text><text x="255" y="581.7">FMC</text><text x="255" y="588">VALID</text></g>
<circle cx="227.8" cy="594.4" r="3" fill="#0d2a12" stroke="#111" stroke-width="0.6"/><circle cx="255" cy="594.4" r="3" fill="#0d2a12" stroke="#111" stroke-width="0.6"/>
<rect x="237.7" y="602" width="50" height="23.7" fill="#111" stroke="#cfcfcf" stroke-width="0.7"/>
<rect x="239.5" y="604" width="6" height="4" fill="none" stroke="#ddd" stroke-width="0.5"/>
<rect x="246.5" y="611.5" width="3.3" height="1.8" fill="#e8e8e8"/>
<rect x="250.9" y="611.5" width="3.3" height="1.8" fill="#e8e8e8"/>
<rect x="255.3" y="611.5" width="3.3" height="1.8" fill="#e8e8e8"/>
<rect x="259.7" y="611.5" width="3.3" height="1.8" fill="#e8e8e8"/>
<rect x="264.1" y="611.5" width="3.3" height="1.8" fill="#e8e8e8"/>
<rect x="268.5" y="611.5" width="3.3" height="1.8" fill="#e8e8e8"/>
<rect x="272.9" y="611.5" width="3.3" height="1.8" fill="#e8e8e8"/>
<rect x="277.3" y="611.5" width="3.3" height="1.8" fill="#e8e8e8"/>
<rect x="281.7" y="611.5" width="3.3" height="1.8" fill="#e8e8e8"/>
<rect x="246.5" y="614.1" width="3.3" height="1.8" fill="#e8e8e8"/>
<rect x="250.9" y="614.1" width="3.3" height="1.8" fill="#e8e8e8"/>
<rect x="255.3" y="614.1" width="3.3" height="1.8" fill="#e8e8e8"/>
<rect x="259.7" y="614.1" width="3.3" height="1.8" fill="#e8e8e8"/>
<rect x="264.1" y="614.1" width="3.3" height="1.8" fill="#e8e8e8"/>
<rect x="268.5" y="614.1" width="3.3" height="1.8" fill="#e8e8e8"/>
<rect x="272.9" y="614.1" width="3.3" height="1.8" fill="#e8e8e8"/>
<rect x="277.3" y="614.1" width="3.3" height="1.8" fill="#e8e8e8"/>
<rect x="281.7" y="614.1" width="3.3" height="1.8" fill="#e8e8e8"/>
<rect x="246.5" y="616.7" width="3.3" height="1.8" fill="#e8e8e8"/>
<rect x="250.9" y="616.7" width="3.3" height="1.8" fill="#e8e8e8"/>
<rect x="255.3" y="616.7" width="3.3" height="1.8" fill="#e8e8e8"/>
<rect x="259.7" y="616.7" width="3.3" height="1.8" fill="#e8e8e8"/>
<rect x="264.1" y="616.7" width="3.3" height="1.8" fill="#e8e8e8"/>
<rect x="268.5" y="616.7" width="3.3" height="1.8" fill="#e8e8e8"/>
<rect x="272.9" y="616.7" width="3.3" height="1.8" fill="#e8e8e8"/>
<rect x="277.3" y="616.7" width="3.3" height="1.8" fill="#e8e8e8"/>
<rect x="281.7" y="616.7" width="3.3" height="1.8" fill="#e8e8e8"/>
<rect x="246.5" y="619.3" width="3.3" height="1.8" fill="#e8e8e8"/>
<rect x="250.9" y="619.3" width="3.3" height="1.8" fill="#e8e8e8"/>
<rect x="255.3" y="619.3" width="3.3" height="1.8" fill="#e8e8e8"/>
<rect x="259.7" y="619.3" width="3.3" height="1.8" fill="#e8e8e8"/>
<rect x="264.1" y="619.3" width="3.3" height="1.8" fill="#e8e8e8"/>
<rect x="268.5" y="619.3" width="3.3" height="1.8" fill="#e8e8e8"/>
<rect x="272.9" y="619.3" width="3.3" height="1.8" fill="#e8e8e8"/>
<rect x="277.3" y="619.3" width="3.3" height="1.8" fill="#e8e8e8"/>
<rect x="281.7" y="619.3" width="3.3" height="1.8" fill="#e8e8e8"/>
<rect x="246.5" y="621.9" width="3.3" height="1.8" fill="#e8e8e8"/>
<rect x="250.9" y="621.9" width="3.3" height="1.8" fill="#e8e8e8"/>
<rect x="255.3" y="621.9" width="3.3" height="1.8" fill="#e8e8e8"/>
<rect x="259.7" y="621.9" width="3.3" height="1.8" fill="#e8e8e8"/>
<rect x="264.1" y="621.9" width="3.3" height="1.8" fill="#e8e8e8"/>
<rect x="268.5" y="621.9" width="3.3" height="1.8" fill="#e8e8e8"/>
<rect x="272.9" y="621.9" width="3.3" height="1.8" fill="#e8e8e8"/>
<rect x="277.3" y="621.9" width="3.3" height="1.8" fill="#e8e8e8"/>
<rect x="281.7" y="621.9" width="3.3" height="1.8" fill="#e8e8e8"/>
<rect x="256" y="604.5" width="24" height="1" fill="#aaa"/>
<rect x="241.5" y="628.3" width="41.4" height="25.2" fill="#111" stroke="#cfcfcf" stroke-width="0.7"/>
<rect x="244" y="630.5" width="35" height="1.2" fill="#ccc"/>
<rect x="244" y="632.8" width="35" height="1.2" fill="#ccc"/>
<rect x="244" y="635.1" width="35" height="1.2" fill="#ccc"/>
<rect x="251" y="637.4" width="28" height="1.2" fill="#ccc"/>
<rect x="251" y="639.7" width="28" height="1.2" fill="#ccc"/>
<rect x="251" y="642.0" width="28" height="1.2" fill="#ccc"/>
<rect x="251" y="644.3" width="28" height="1.2" fill="#ccc"/>
<rect x="251" y="646.6" width="28" height="1.2" fill="#ccc"/>
<rect x="251" y="648.9" width="28" height="1.2" fill="#ccc"/>
<rect x="244" y="638" width="6.5" height="5" fill="#111"/><rect x="244" y="644.5" width="6" height="1" fill="#ccc"/><rect x="244" y="650" width="4" height="1" fill="#ccc"/>
<rect x="228.5" y="655.5" width="9" height="26" rx="4.5" fill="#d8d8d8" stroke="#999" stroke-width="0.5"/>
<circle cx="233" cy="660.5" r="1.5" fill="#aaa"/><circle cx="233" cy="670.5" r="1.5" fill="#aaa"/>
<rect x="288.0" y="655.5" width="9" height="26" rx="4.5" fill="#d8d8d8" stroke="#999" stroke-width="0.5"/>
<circle cx="292.5" cy="660.5" r="1.5" fill="#aaa"/><circle cx="292.5" cy="670.5" r="1.5" fill="#aaa"/>
<rect x="205" y="679.8" width="120" height="3" fill="#e4e4e4"/>
</g>
<!-- ===== IRS TRANSFER SWITCH ===== -->
<g>
<path d="M867.2,112.4 L876.8,110.5 L890,106 L928.3,103.1 L962.2,102.4 L987.2,114.1 L993.8,134 L985.7,152.4 L990.1,170.1 L982,186.3 L956.3,192.1 L928.3,187.7 L897.4,192.1 L879.7,192.9 L873.9,180.4 L861.3,180.4 L858.4,165.7 L850.3,149.5 L857.7,127.4 Z" fill="#7a7a7a" stroke="#000" stroke-width="2.4" stroke-linejoin="round"/>
<polygon points="940.9,148.4 931.0,165.6 911.0,165.6 901.1,148.4 911.0,131.2 931.0,131.2" fill="#b0b0b0"/>
<circle cx="921" cy="148.4" r="14.8" fill="#8c8c8c"/><circle cx="921" cy="148.4" r="11" fill="#bfbfbf"/>
<path d="M916.6,159 L917.8,147 Q918.5,144 920.8,144 Q923.2,144 923.8,147 L925.4,159 Z" fill="#9c9c9c" stroke="#6a6a6a" stroke-width="0.5"/>
<circle cx="921" cy="161.4" r="6" fill="#a2a2a2"/><path d="M915.2,159.8 A6,6 0 0 1 926.8,159.8 Q921,158.3 915.2,159.8 Z" fill="#bcbcbc"/>
<g font-size="10.4" fill="#f0f0f0" text-anchor="middle"><text x="921.7" y="123.7">IRS</text><text x="880.5" y="145.8">BOTH</text><text x="880.5" y="158.3">ON R</text><text x="964.4" y="145.8">BOTH</text><text x="964.4" y="158.3">ON R</text><text x="921" y="176.7">NORMAL</text></g>
<polyline points="913.6,162.4 890.8,162.4 890.8,244" fill="none" stroke="#111" stroke-width="1.3"/>
<polygon points="885.8,243.5 895.8,243.5 890.8,251.6" fill="#000"/>
</g>
<!-- ===== DEU ===== -->
<g>
<rect x="828.2" y="252.9" width="128.29999999999995" height="106.49999999999997" fill="#cdc394" stroke="#111" stroke-width="2"/>
<rect x="828.8000000000001" y="335.3" width="127.09999999999995" height="23.499999999999964" fill="#c4b98b"/>
<line x1="828.2" y1="335.8" x2="956.5" y2="335.8" stroke="#222" stroke-width="1.4"/>
<g fill="#1e1e18"><circle cx="833.5" cy="258.2" r="0.85"/><circle cx="836.3" cy="258.2" r="0.85"/><circle cx="839.1" cy="258.2" r="0.85"/><circle cx="841.9" cy="258.2" r="0.85"/><circle cx="844.7" cy="258.2" r="0.85"/><circle cx="847.5" cy="258.2" r="0.85"/><circle cx="850.3" cy="258.2" r="0.85"/><circle cx="853.1" cy="258.2" r="0.85"/><circle cx="855.9" cy="258.2" r="0.85"/><circle cx="858.7" cy="258.2" r="0.85"/><circle cx="861.5" cy="258.2" r="0.85"/><circle cx="864.3" cy="258.2" r="0.85"/><circle cx="867.1" cy="258.2" r="0.85"/><circle cx="869.9" cy="258.2" r="0.85"/><circle cx="872.7" cy="258.2" r="0.85"/><circle cx="875.5" cy="258.2" r="0.85"/><circle cx="878.3" cy="258.2" r="0.85"/><circle cx="881.1" cy="258.2" r="0.85"/><circle cx="883.9" cy="258.2" r="0.85"/><circle cx="886.7" cy="258.2" r="0.85"/><circle cx="889.5" cy="258.2" r="0.85"/><circle cx="892.3" cy="258.2" r="0.85"/><circle cx="895.1" cy="258.2" r="0.85"/><circle cx="897.9" cy="258.2" r="0.85"/><circle cx="900.7" cy="258.2" r="0.85"/><circle cx="903.5" cy="258.2" r="0.85"/><circle cx="906.3" cy="258.2" r="0.85"/><circle cx="909.1" cy="258.2" r="0.85"/><circle cx="911.9" cy="258.2" r="0.85"/><circle cx="914.7" cy="258.2" r="0.85"/><circle cx="917.5" cy="258.2" r="0.85"/><circle cx="920.3" cy="258.2" r="0.85"/><circle cx="923.1" cy="258.2" r="0.85"/><circle cx="925.9" cy="258.2" r="0.85"/><circle cx="928.7" cy="258.2" r="0.85"/><circle cx="931.5" cy="258.2" r="0.85"/><circle cx="934.3" cy="258.2" r="0.85"/><circle cx="937.1" cy="258.2" r="0.85"/><circle cx="834.9" cy="261.0" r="0.85"/><circle cx="837.7" cy="261.0" r="0.85"/><circle cx="840.5" cy="261.0" r="0.85"/><circle cx="843.3" cy="261.0" r="0.85"/><circle cx="846.1" cy="261.0" r="0.85"/><circle cx="848.9" cy="261.0" r="0.85"/><circle cx="851.7" cy="261.0" r="0.85"/><circle cx="854.5" cy="261.0" r="0.85"/><circle cx="857.3" cy="261.0" r="0.85"/><circle cx="860.1" cy="261.0" r="0.85"/><circle cx="862.9" cy="261.0" r="0.85"/><circle cx="865.7" cy="261.0" r="0.85"/><circle cx="868.5" cy="261.0" r="0.85"/><circle cx="871.3" cy="261.0" r="0.85"/><circle cx="874.1" cy="261.0" r="0.85"/><circle cx="876.9" cy="261.0" r="0.85"/><circle cx="879.7" cy="261.0" r="0.85"/><circle cx="882.5" cy="261.0" r="0.85"/><circle cx="885.3" cy="261.0" r="0.85"/><circle cx="888.1" cy="261.0" r="0.85"/><circle cx="890.9" cy="261.0" r="0.85"/><circle cx="893.7" cy="261.0" r="0.85"/><circle cx="896.5" cy="261.0" r="0.85"/><circle cx="899.3" cy="261.0" r="0.85"/><circle cx="902.1" cy="261.0" r="0.85"/><circle cx="904.9" cy="261.0" r="0.85"/><circle cx="907.7" cy="261.0" r="0.85"/><circle cx="910.5" cy="261.0" r="0.85"/><circle cx="913.3" cy="261.0" r="0.85"/><circle cx="916.1" cy="261.0" r="0.85"/><circle cx="918.9" cy="261.0" r="0.85"/><circle cx="921.7" cy="261.0" r="0.85"/><circle cx="924.5" cy="261.0" r="0.85"/><circle cx="927.3" cy="261.0" r="0.85"/><circle cx="930.1" cy="261.0" r="0.85"/><circle cx="932.9" cy="261.0" r="0.85"/><circle cx="935.7" cy="261.0" r="0.85"/><circle cx="938.5" cy="261.0" r="0.85"/><circle cx="833.5" cy="263.8" r="0.85"/><circle cx="836.3" cy="263.8" r="0.85"/><circle cx="839.1" cy="263.8" r="0.85"/><circle cx="841.9" cy="263.8" r="0.85"/><circle cx="844.7" cy="263.8" r="0.85"/><circle cx="847.5" cy="263.8" r="0.85"/><circle cx="850.3" cy="263.8" r="0.85"/><circle cx="853.1" cy="263.8" r="0.85"/><circle cx="855.9" cy="263.8" r="0.85"/><circle cx="858.7" cy="263.8" r="0.85"/><circle cx="861.5" cy="263.8" r="0.85"/><circle cx="864.3" cy="263.8" r="0.85"/><circle cx="867.1" cy="263.8" r="0.85"/><circle cx="869.9" cy="263.8" r="0.85"/><circle cx="872.7" cy="263.8" r="0.85"/><circle cx="875.5" cy="263.8" r="0.85"/><circle cx="878.3" cy="263.8" r="0.85"/><circle cx="881.1" cy="263.8" r="0.85"/><circle cx="883.9" cy="263.8" r="0.85"/><circle cx="886.7" cy="263.8" r="0.85"/><circle cx="889.5" cy="263.8" r="0.85"/><circle cx="892.3" cy="263.8" r="0.85"/><circle cx="895.1" cy="263.8" r="0.85"/><circle cx="897.9" cy="263.8" r="0.85"/><circle cx="900.7" cy="263.8" r="0.85"/><circle cx="903.5" cy="263.8" r="0.85"/><circle cx="906.3" cy="263.8" r="0.85"/><circle cx="909.1" cy="263.8" r="0.85"/><circle cx="911.9" cy="263.8" r="0.85"/><circle cx="914.7" cy="263.8" r="0.85"/><circle cx="917.5" cy="263.8" r="0.85"/><circle cx="920.3" cy="263.8" r="0.85"/><circle cx="923.1" cy="263.8" r="0.85"/><circle cx="925.9" cy="263.8" r="0.85"/><circle cx="928.7" cy="263.8" r="0.85"/><circle cx="931.5" cy="263.8" r="0.85"/><circle cx="934.3" cy="263.8" r="0.85"/><circle cx="937.1" cy="263.8" r="0.85"/><circle cx="939.9" cy="263.8" r="0.85"/><circle cx="942.7" cy="263.8" r="0.85"/><circle cx="945.5" cy="263.8" r="0.85"/><circle cx="948.3" cy="263.8" r="0.85"/><circle cx="834.9" cy="266.6" r="0.85"/><circle cx="837.7" cy="266.6" r="0.85"/><circle cx="840.5" cy="266.6" r="0.85"/><circle cx="843.3" cy="266.6" r="0.85"/><circle cx="846.1" cy="266.6" r="0.85"/><circle cx="848.9" cy="266.6" r="0.85"/><circle cx="851.7" cy="266.6" r="0.85"/><circle cx="854.5" cy="266.6" r="0.85"/><circle cx="857.3" cy="266.6" r="0.85"/><circle cx="860.1" cy="266.6" r="0.85"/><circle cx="862.9" cy="266.6" r="0.85"/><circle cx="865.7" cy="266.6" r="0.85"/><circle cx="868.5" cy="266.6" r="0.85"/><circle cx="871.3" cy="266.6" r="0.85"/><circle cx="874.1" cy="266.6" r="0.85"/><circle cx="876.9" cy="266.6" r="0.85"/><circle cx="879.7" cy="266.6" r="0.85"/><circle cx="882.5" cy="266.6" r="0.85"/><circle cx="885.3" cy="266.6" r="0.85"/><circle cx="888.1" cy="266.6" r="0.85"/><circle cx="890.9" cy="266.6" r="0.85"/><circle cx="893.7" cy="266.6" r="0.85"/><circle cx="896.5" cy="266.6" r="0.85"/><circle cx="899.3" cy="266.6" r="0.85"/><circle cx="902.1" cy="266.6" r="0.85"/><circle cx="904.9" cy="266.6" r="0.85"/><circle cx="907.7" cy="266.6" r="0.85"/><circle cx="910.5" cy="266.6" r="0.85"/><circle cx="913.3" cy="266.6" r="0.85"/><circle cx="916.1" cy="266.6" r="0.85"/><circle cx="918.9" cy="266.6" r="0.85"/><circle cx="921.7" cy="266.6" r="0.85"/><circle cx="924.5" cy="266.6" r="0.85"/><circle cx="927.3" cy="266.6" r="0.85"/><circle cx="930.1" cy="266.6" r="0.85"/><circle cx="932.9" cy="266.6" r="0.85"/><circle cx="935.7" cy="266.6" r="0.85"/><circle cx="938.5" cy="266.6" r="0.85"/><circle cx="941.3" cy="266.6" r="0.85"/><circle cx="944.1" cy="266.6" r="0.85"/><circle cx="946.9" cy="266.6" r="0.85"/><circle cx="949.7" cy="266.6" r="0.85"/><circle cx="833.5" cy="269.4" r="0.85"/><circle cx="836.3" cy="269.4" r="0.85"/><circle cx="839.1" cy="269.4" r="0.85"/><circle cx="841.9" cy="269.4" r="0.85"/><circle cx="844.7" cy="269.4" r="0.85"/><circle cx="847.5" cy="269.4" r="0.85"/><circle cx="850.3" cy="269.4" r="0.85"/><circle cx="853.1" cy="269.4" r="0.85"/><circle cx="855.9" cy="269.4" r="0.85"/><circle cx="858.7" cy="269.4" r="0.85"/><circle cx="861.5" cy="269.4" r="0.85"/><circle cx="864.3" cy="269.4" r="0.85"/><circle cx="867.1" cy="269.4" r="0.85"/><circle cx="869.9" cy="269.4" r="0.85"/><circle cx="872.7" cy="269.4" r="0.85"/><circle cx="875.5" cy="269.4" r="0.85"/><circle cx="878.3" cy="269.4" r="0.85"/><circle cx="881.1" cy="269.4" r="0.85"/><circle cx="883.9" cy="269.4" r="0.85"/><circle cx="886.7" cy="269.4" r="0.85"/><circle cx="889.5" cy="269.4" r="0.85"/><circle cx="892.3" cy="269.4" r="0.85"/><circle cx="895.1" cy="269.4" r="0.85"/><circle cx="897.9" cy="269.4" r="0.85"/><circle cx="900.7" cy="269.4" r="0.85"/><circle cx="903.5" cy="269.4" r="0.85"/><circle cx="906.3" cy="269.4" r="0.85"/><circle cx="909.1" cy="269.4" r="0.85"/><circle cx="911.9" cy="269.4" r="0.85"/><circle cx="914.7" cy="269.4" r="0.85"/><circle cx="917.5" cy="269.4" r="0.85"/><circle cx="920.3" cy="269.4" r="0.85"/><circle cx="923.1" cy="269.4" r="0.85"/><circle cx="925.9" cy="269.4" r="0.85"/><circle cx="928.7" cy="269.4" r="0.85"/><circle cx="931.5" cy="269.4" r="0.85"/><circle cx="934.3" cy="269.4" r="0.85"/><circle cx="937.1" cy="269.4" r="0.85"/><circle cx="939.9" cy="269.4" r="0.85"/><circle cx="942.7" cy="269.4" r="0.85"/><circle cx="945.5" cy="269.4" r="0.85"/><circle cx="948.3" cy="269.4" r="0.85"/><circle cx="834.9" cy="272.2" r="0.85"/><circle cx="837.7" cy="272.2" r="0.85"/><circle cx="840.5" cy="272.2" r="0.85"/><circle cx="843.3" cy="272.2" r="0.85"/><circle cx="846.1" cy="272.2" r="0.85"/><circle cx="848.9" cy="272.2" r="0.85"/><circle cx="851.7" cy="272.2" r="0.85"/><circle cx="854.5" cy="272.2" r="0.85"/><circle cx="857.3" cy="272.2" r="0.85"/><circle cx="860.1" cy="272.2" r="0.85"/><circle cx="862.9" cy="272.2" r="0.85"/><circle cx="865.7" cy="272.2" r="0.85"/><circle cx="868.5" cy="272.2" r="0.85"/><circle cx="871.3" cy="272.2" r="0.85"/><circle cx="874.1" cy="272.2" r="0.85"/><circle cx="876.9" cy="272.2" r="0.85"/><circle cx="879.7" cy="272.2" r="0.85"/><circle cx="882.5" cy="272.2" r="0.85"/><circle cx="885.3" cy="272.2" r="0.85"/><circle cx="888.1" cy="272.2" r="0.85"/><circle cx="890.9" cy="272.2" r="0.85"/><circle cx="893.7" cy="272.2" r="0.85"/><circle cx="896.5" cy="272.2" r="0.85"/><circle cx="899.3" cy="272.2" r="0.85"/><circle cx="902.1" cy="272.2" r="0.85"/><circle cx="904.9" cy="272.2" r="0.85"/><circle cx="907.7" cy="272.2" r="0.85"/><circle cx="910.5" cy="272.2" r="0.85"/><circle cx="913.3" cy="272.2" r="0.85"/><circle cx="916.1" cy="272.2" r="0.85"/><circle cx="918.9" cy="272.2" r="0.85"/><circle cx="921.7" cy="272.2" r="0.85"/><circle cx="924.5" cy="272.2" r="0.85"/><circle cx="927.3" cy="272.2" r="0.85"/><circle cx="930.1" cy="272.2" r="0.85"/><circle cx="932.9" cy="272.2" r="0.85"/><circle cx="935.7" cy="272.2" r="0.85"/><circle cx="938.5" cy="272.2" r="0.85"/><circle cx="941.3" cy="272.2" r="0.85"/><circle cx="944.1" cy="272.2" r="0.85"/><circle cx="946.9" cy="272.2" r="0.85"/><circle cx="949.7" cy="272.2" r="0.85"/><circle cx="833.5" cy="275.0" r="0.85"/><circle cx="836.3" cy="275.0" r="0.85"/><circle cx="839.1" cy="275.0" r="0.85"/><circle cx="841.9" cy="275.0" r="0.85"/><circle cx="844.7" cy="275.0" r="0.85"/><circle cx="847.5" cy="275.0" r="0.85"/><circle cx="850.3" cy="275.0" r="0.85"/><circle cx="853.1" cy="275.0" r="0.85"/><circle cx="855.9" cy="275.0" r="0.85"/><circle cx="858.7" cy="275.0" r="0.85"/><circle cx="861.5" cy="275.0" r="0.85"/><circle cx="864.3" cy="275.0" r="0.85"/><circle cx="867.1" cy="275.0" r="0.85"/><circle cx="869.9" cy="275.0" r="0.85"/><circle cx="872.7" cy="275.0" r="0.85"/><circle cx="875.5" cy="275.0" r="0.85"/><circle cx="878.3" cy="275.0" r="0.85"/><circle cx="881.1" cy="275.0" r="0.85"/><circle cx="883.9" cy="275.0" r="0.85"/><circle cx="886.7" cy="275.0" r="0.85"/><circle cx="889.5" cy="275.0" r="0.85"/><circle cx="892.3" cy="275.0" r="0.85"/><circle cx="895.1" cy="275.0" r="0.85"/><circle cx="897.9" cy="275.0" r="0.85"/><circle cx="900.7" cy="275.0" r="0.85"/><circle cx="903.5" cy="275.0" r="0.85"/><circle cx="906.3" cy="275.0" r="0.85"/><circle cx="909.1" cy="275.0" r="0.85"/><circle cx="911.9" cy="275.0" r="0.85"/><circle cx="914.7" cy="275.0" r="0.85"/><circle cx="917.5" cy="275.0" r="0.85"/><circle cx="920.3" cy="275.0" r="0.85"/><circle cx="923.1" cy="275.0" r="0.85"/><circle cx="925.9" cy="275.0" r="0.85"/><circle cx="928.7" cy="275.0" r="0.85"/><circle cx="931.5" cy="275.0" r="0.85"/><circle cx="934.3" cy="275.0" r="0.85"/><circle cx="937.1" cy="275.0" r="0.85"/><circle cx="939.9" cy="275.0" r="0.85"/><circle cx="942.7" cy="275.0" r="0.85"/><circle cx="945.5" cy="275.0" r="0.85"/><circle cx="948.3" cy="275.0" r="0.85"/><circle cx="834.9" cy="277.8" r="0.85"/><circle cx="837.7" cy="277.8" r="0.85"/><circle cx="840.5" cy="277.8" r="0.85"/><circle cx="843.3" cy="277.8" r="0.85"/><circle cx="846.1" cy="277.8" r="0.85"/><circle cx="848.9" cy="277.8" r="0.85"/><circle cx="851.7" cy="277.8" r="0.85"/><circle cx="854.5" cy="277.8" r="0.85"/><circle cx="857.3" cy="277.8" r="0.85"/><circle cx="860.1" cy="277.8" r="0.85"/><circle cx="862.9" cy="277.8" r="0.85"/><circle cx="865.7" cy="277.8" r="0.85"/><circle cx="868.5" cy="277.8" r="0.85"/><circle cx="871.3" cy="277.8" r="0.85"/><circle cx="874.1" cy="277.8" r="0.85"/><circle cx="876.9" cy="277.8" r="0.85"/><circle cx="879.7" cy="277.8" r="0.85"/><circle cx="882.5" cy="277.8" r="0.85"/><circle cx="885.3" cy="277.8" r="0.85"/><circle cx="888.1" cy="277.8" r="0.85"/><circle cx="890.9" cy="277.8" r="0.85"/><circle cx="893.7" cy="277.8" r="0.85"/><circle cx="896.5" cy="277.8" r="0.85"/><circle cx="899.3" cy="277.8" r="0.85"/><circle cx="902.1" cy="277.8" r="0.85"/><circle cx="904.9" cy="277.8" r="0.85"/><circle cx="907.7" cy="277.8" r="0.85"/><circle cx="910.5" cy="277.8" r="0.85"/><circle cx="913.3" cy="277.8" r="0.85"/><circle cx="916.1" cy="277.8" r="0.85"/><circle cx="918.9" cy="277.8" r="0.85"/><circle cx="921.7" cy="277.8" r="0.85"/><circle cx="924.5" cy="277.8" r="0.85"/><circle cx="927.3" cy="277.8" r="0.85"/><circle cx="930.1" cy="277.8" r="0.85"/><circle cx="932.9" cy="277.8" r="0.85"/><circle cx="935.7" cy="277.8" r="0.85"/><circle cx="938.5" cy="277.8" r="0.85"/><circle cx="941.3" cy="277.8" r="0.85"/><circle cx="944.1" cy="277.8" r="0.85"/><circle cx="946.9" cy="277.8" r="0.85"/><circle cx="949.7" cy="277.8" r="0.85"/><circle cx="833.5" cy="280.6" r="0.85"/><circle cx="836.3" cy="280.6" r="0.85"/><circle cx="839.1" cy="280.6" r="0.85"/><circle cx="841.9" cy="280.6" r="0.85"/><circle cx="844.7" cy="280.6" r="0.85"/><circle cx="847.5" cy="280.6" r="0.85"/><circle cx="850.3" cy="280.6" r="0.85"/><circle cx="853.1" cy="280.6" r="0.85"/><circle cx="855.9" cy="280.6" r="0.85"/><circle cx="858.7" cy="280.6" r="0.85"/><circle cx="861.5" cy="280.6" r="0.85"/><circle cx="864.3" cy="280.6" r="0.85"/><circle cx="867.1" cy="280.6" r="0.85"/><circle cx="869.9" cy="280.6" r="0.85"/><circle cx="872.7" cy="280.6" r="0.85"/><circle cx="875.5" cy="280.6" r="0.85"/><circle cx="878.3" cy="280.6" r="0.85"/><circle cx="881.1" cy="280.6" r="0.85"/><circle cx="883.9" cy="280.6" r="0.85"/><circle cx="886.7" cy="280.6" r="0.85"/><circle cx="889.5" cy="280.6" r="0.85"/><circle cx="892.3" cy="280.6" r="0.85"/><circle cx="895.1" cy="280.6" r="0.85"/><circle cx="897.9" cy="280.6" r="0.85"/><circle cx="900.7" cy="280.6" r="0.85"/><circle cx="903.5" cy="280.6" r="0.85"/><circle cx="906.3" cy="280.6" r="0.85"/><circle cx="909.1" cy="280.6" r="0.85"/><circle cx="911.9" cy="280.6" r="0.85"/><circle cx="914.7" cy="280.6" r="0.85"/><circle cx="917.5" cy="280.6" r="0.85"/><circle cx="920.3" cy="280.6" r="0.85"/><circle cx="923.1" cy="280.6" r="0.85"/><circle cx="925.9" cy="280.6" r="0.85"/><circle cx="928.7" cy="280.6" r="0.85"/><circle cx="931.5" cy="280.6" r="0.85"/><circle cx="934.3" cy="280.6" r="0.85"/><circle cx="937.1" cy="280.6" r="0.85"/><circle cx="939.9" cy="280.6" r="0.85"/><circle cx="942.7" cy="280.6" r="0.85"/><circle cx="945.5" cy="280.6" r="0.85"/><circle cx="948.3" cy="280.6" r="0.85"/><circle cx="834.9" cy="283.4" r="0.85"/><circle cx="837.7" cy="283.4" r="0.85"/><circle cx="840.5" cy="283.4" r="0.85"/><circle cx="843.3" cy="283.4" r="0.85"/><circle cx="846.1" cy="283.4" r="0.85"/><circle cx="848.9" cy="283.4" r="0.85"/><circle cx="851.7" cy="283.4" r="0.85"/><circle cx="854.5" cy="283.4" r="0.85"/><circle cx="857.3" cy="283.4" r="0.85"/><circle cx="860.1" cy="283.4" r="0.85"/><circle cx="862.9" cy="283.4" r="0.85"/><circle cx="865.7" cy="283.4" r="0.85"/><circle cx="868.5" cy="283.4" r="0.85"/><circle cx="871.3" cy="283.4" r="0.85"/><circle cx="874.1" cy="283.4" r="0.85"/><circle cx="876.9" cy="283.4" r="0.85"/><circle cx="879.7" cy="283.4" r="0.85"/><circle cx="882.5" cy="283.4" r="0.85"/><circle cx="885.3" cy="283.4" r="0.85"/><circle cx="888.1" cy="283.4" r="0.85"/><circle cx="890.9" cy="283.4" r="0.85"/><circle cx="893.7" cy="283.4" r="0.85"/><circle cx="896.5" cy="283.4" r="0.85"/><circle cx="899.3" cy="283.4" r="0.85"/><circle cx="902.1" cy="283.4" r="0.85"/><circle cx="904.9" cy="283.4" r="0.85"/><circle cx="907.7" cy="283.4" r="0.85"/><circle cx="910.5" cy="283.4" r="0.85"/><circle cx="913.3" cy="283.4" r="0.85"/><circle cx="916.1" cy="283.4" r="0.85"/><circle cx="918.9" cy="283.4" r="0.85"/><circle cx="921.7" cy="283.4" r="0.85"/><circle cx="924.5" cy="283.4" r="0.85"/><circle cx="927.3" cy="283.4" r="0.85"/><circle cx="930.1" cy="283.4" r="0.85"/><circle cx="932.9" cy="283.4" r="0.85"/><circle cx="935.7" cy="283.4" r="0.85"/><circle cx="938.5" cy="283.4" r="0.85"/><circle cx="941.3" cy="283.4" r="0.85"/><circle cx="944.1" cy="283.4" r="0.85"/><circle cx="946.9" cy="283.4" r="0.85"/><circle cx="949.7" cy="283.4" r="0.85"/><circle cx="833.5" cy="286.2" r="0.85"/><circle cx="836.3" cy="286.2" r="0.85"/><circle cx="839.1" cy="286.2" r="0.85"/><circle cx="841.9" cy="286.2" r="0.85"/><circle cx="844.7" cy="286.2" r="0.85"/><circle cx="847.5" cy="286.2" r="0.85"/><circle cx="850.3" cy="286.2" r="0.85"/><circle cx="853.1" cy="286.2" r="0.85"/><circle cx="855.9" cy="286.2" r="0.85"/><circle cx="858.7" cy="286.2" r="0.85"/><circle cx="861.5" cy="286.2" r="0.85"/><circle cx="864.3" cy="286.2" r="0.85"/><circle cx="867.1" cy="286.2" r="0.85"/><circle cx="869.9" cy="286.2" r="0.85"/><circle cx="872.7" cy="286.2" r="0.85"/><circle cx="875.5" cy="286.2" r="0.85"/><circle cx="878.3" cy="286.2" r="0.85"/><circle cx="881.1" cy="286.2" r="0.85"/><circle cx="883.9" cy="286.2" r="0.85"/><circle cx="886.7" cy="286.2" r="0.85"/><circle cx="889.5" cy="286.2" r="0.85"/><circle cx="892.3" cy="286.2" r="0.85"/><circle cx="895.1" cy="286.2" r="0.85"/><circle cx="897.9" cy="286.2" r="0.85"/><circle cx="900.7" cy="286.2" r="0.85"/><circle cx="903.5" cy="286.2" r="0.85"/><circle cx="906.3" cy="286.2" r="0.85"/><circle cx="909.1" cy="286.2" r="0.85"/><circle cx="911.9" cy="286.2" r="0.85"/><circle cx="914.7" cy="286.2" r="0.85"/><circle cx="917.5" cy="286.2" r="0.85"/><circle cx="920.3" cy="286.2" r="0.85"/><circle cx="923.1" cy="286.2" r="0.85"/><circle cx="925.9" cy="286.2" r="0.85"/><circle cx="928.7" cy="286.2" r="0.85"/><circle cx="931.5" cy="286.2" r="0.85"/><circle cx="934.3" cy="286.2" r="0.85"/><circle cx="937.1" cy="286.2" r="0.85"/><circle cx="939.9" cy="286.2" r="0.85"/><circle cx="942.7" cy="286.2" r="0.85"/><circle cx="945.5" cy="286.2" r="0.85"/><circle cx="948.3" cy="286.2" r="0.85"/><circle cx="834.9" cy="289.0" r="0.85"/><circle cx="837.7" cy="289.0" r="0.85"/><circle cx="840.5" cy="289.0" r="0.85"/><circle cx="843.3" cy="289.0" r="0.85"/><circle cx="846.1" cy="289.0" r="0.85"/><circle cx="848.9" cy="289.0" r="0.85"/><circle cx="851.7" cy="289.0" r="0.85"/><circle cx="854.5" cy="289.0" r="0.85"/><circle cx="857.3" cy="289.0" r="0.85"/><circle cx="860.1" cy="289.0" r="0.85"/><circle cx="862.9" cy="289.0" r="0.85"/><circle cx="865.7" cy="289.0" r="0.85"/><circle cx="868.5" cy="289.0" r="0.85"/><circle cx="871.3" cy="289.0" r="0.85"/><circle cx="874.1" cy="289.0" r="0.85"/><circle cx="876.9" cy="289.0" r="0.85"/><circle cx="879.7" cy="289.0" r="0.85"/><circle cx="882.5" cy="289.0" r="0.85"/><circle cx="885.3" cy="289.0" r="0.85"/><circle cx="888.1" cy="289.0" r="0.85"/><circle cx="890.9" cy="289.0" r="0.85"/><circle cx="893.7" cy="289.0" r="0.85"/><circle cx="896.5" cy="289.0" r="0.85"/><circle cx="899.3" cy="289.0" r="0.85"/><circle cx="902.1" cy="289.0" r="0.85"/><circle cx="904.9" cy="289.0" r="0.85"/><circle cx="907.7" cy="289.0" r="0.85"/><circle cx="910.5" cy="289.0" r="0.85"/><circle cx="913.3" cy="289.0" r="0.85"/><circle cx="916.1" cy="289.0" r="0.85"/><circle cx="918.9" cy="289.0" r="0.85"/><circle cx="921.7" cy="289.0" r="0.85"/><circle cx="924.5" cy="289.0" r="0.85"/><circle cx="927.3" cy="289.0" r="0.85"/><circle cx="930.1" cy="289.0" r="0.85"/><circle cx="932.9" cy="289.0" r="0.85"/><circle cx="935.7" cy="289.0" r="0.85"/><circle cx="938.5" cy="289.0" r="0.85"/><circle cx="941.3" cy="289.0" r="0.85"/><circle cx="944.1" cy="289.0" r="0.85"/><circle cx="946.9" cy="289.0" r="0.85"/><circle cx="949.7" cy="289.0" r="0.85"/><circle cx="833.5" cy="291.8" r="0.85"/><circle cx="836.3" cy="291.8" r="0.85"/><circle cx="839.1" cy="291.8" r="0.85"/><circle cx="841.9" cy="291.8" r="0.85"/><circle cx="844.7" cy="291.8" r="0.85"/><circle cx="847.5" cy="291.8" r="0.85"/><circle cx="850.3" cy="291.8" r="0.85"/><circle cx="853.1" cy="291.8" r="0.85"/><circle cx="855.9" cy="291.8" r="0.85"/><circle cx="858.7" cy="291.8" r="0.85"/><circle cx="861.5" cy="291.8" r="0.85"/><circle cx="864.3" cy="291.8" r="0.85"/><circle cx="867.1" cy="291.8" r="0.85"/><circle cx="869.9" cy="291.8" r="0.85"/><circle cx="872.7" cy="291.8" r="0.85"/><circle cx="875.5" cy="291.8" r="0.85"/><circle cx="878.3" cy="291.8" r="0.85"/><circle cx="881.1" cy="291.8" r="0.85"/><circle cx="883.9" cy="291.8" r="0.85"/><circle cx="886.7" cy="291.8" r="0.85"/><circle cx="889.5" cy="291.8" r="0.85"/><circle cx="892.3" cy="291.8" r="0.85"/><circle cx="895.1" cy="291.8" r="0.85"/><circle cx="897.9" cy="291.8" r="0.85"/><circle cx="900.7" cy="291.8" r="0.85"/><circle cx="903.5" cy="291.8" r="0.85"/><circle cx="906.3" cy="291.8" r="0.85"/><circle cx="909.1" cy="291.8" r="0.85"/><circle cx="911.9" cy="291.8" r="0.85"/><circle cx="914.7" cy="291.8" r="0.85"/><circle cx="917.5" cy="291.8" r="0.85"/><circle cx="920.3" cy="291.8" r="0.85"/><circle cx="923.1" cy="291.8" r="0.85"/><circle cx="925.9" cy="291.8" r="0.85"/><circle cx="928.7" cy="291.8" r="0.85"/><circle cx="931.5" cy="291.8" r="0.85"/><circle cx="934.3" cy="291.8" r="0.85"/><circle cx="937.1" cy="291.8" r="0.85"/><circle cx="939.9" cy="291.8" r="0.85"/><circle cx="942.7" cy="291.8" r="0.85"/><circle cx="945.5" cy="291.8" r="0.85"/><circle cx="948.3" cy="291.8" r="0.85"/><circle cx="834.9" cy="294.6" r="0.85"/><circle cx="837.7" cy="294.6" r="0.85"/><circle cx="840.5" cy="294.6" r="0.85"/><circle cx="843.3" cy="294.6" r="0.85"/><circle cx="846.1" cy="294.6" r="0.85"/><circle cx="848.9" cy="294.6" r="0.85"/><circle cx="851.7" cy="294.6" r="0.85"/><circle cx="854.5" cy="294.6" r="0.85"/><circle cx="857.3" cy="294.6" r="0.85"/><circle cx="860.1" cy="294.6" r="0.85"/><circle cx="862.9" cy="294.6" r="0.85"/><circle cx="865.7" cy="294.6" r="0.85"/><circle cx="868.5" cy="294.6" r="0.85"/><circle cx="871.3" cy="294.6" r="0.85"/><circle cx="874.1" cy="294.6" r="0.85"/><circle cx="876.9" cy="294.6" r="0.85"/><circle cx="879.7" cy="294.6" r="0.85"/><circle cx="882.5" cy="294.6" r="0.85"/><circle cx="885.3" cy="294.6" r="0.85"/><circle cx="888.1" cy="294.6" r="0.85"/><circle cx="890.9" cy="294.6" r="0.85"/><circle cx="893.7" cy="294.6" r="0.85"/><circle cx="896.5" cy="294.6" r="0.85"/><circle cx="899.3" cy="294.6" r="0.85"/><circle cx="902.1" cy="294.6" r="0.85"/><circle cx="904.9" cy="294.6" r="0.85"/><circle cx="907.7" cy="294.6" r="0.85"/><circle cx="910.5" cy="294.6" r="0.85"/><circle cx="913.3" cy="294.6" r="0.85"/><circle cx="916.1" cy="294.6" r="0.85"/><circle cx="918.9" cy="294.6" r="0.85"/><circle cx="921.7" cy="294.6" r="0.85"/><circle cx="924.5" cy="294.6" r="0.85"/><circle cx="927.3" cy="294.6" r="0.85"/><circle cx="930.1" cy="294.6" r="0.85"/><circle cx="932.9" cy="294.6" r="0.85"/><circle cx="935.7" cy="294.6" r="0.85"/><circle cx="938.5" cy="294.6" r="0.85"/><circle cx="941.3" cy="294.6" r="0.85"/><circle cx="944.1" cy="294.6" r="0.85"/><circle cx="946.9" cy="294.6" r="0.85"/><circle cx="949.7" cy="294.6" r="0.85"/></g>
<rect x="943.7" y="258" width="8" height="8" fill="#f0c000"/><circle cx="947.7" cy="262" r="3" fill="#e03010"/>
<circle cx="830.5" cy="255.2" r="1.3" fill="#8a8060" stroke="#555" stroke-width="0.3"/>
<circle cx="871.7" cy="255.2" r="1.3" fill="#8a8060" stroke="#555" stroke-width="0.3"/>
<circle cx="913.3" cy="255.2" r="1.3" fill="#8a8060" stroke="#555" stroke-width="0.3"/>
<circle cx="955" cy="255.2" r="1.3" fill="#8a8060" stroke="#555" stroke-width="0.3"/>
<circle cx="830.5" cy="295.5" r="1.3" fill="#8a8060" stroke="#555" stroke-width="0.3"/>
<circle cx="955" cy="295.5" r="1.3" fill="#8a8060" stroke="#555" stroke-width="0.3"/>
<circle cx="892.2" cy="299.8" r="1.3" fill="#8a8060" stroke="#555" stroke-width="0.3"/>
<circle cx="856.6" cy="305" r="1.3" fill="#8a8060" stroke="#555" stroke-width="0.3"/>
<circle cx="928.5" cy="305" r="1.3" fill="#8a8060" stroke="#555" stroke-width="0.3"/>
<circle cx="842.6" cy="333" r="1.3" fill="#8a8060" stroke="#555" stroke-width="0.3"/>
<circle cx="942" cy="333" r="1.3" fill="#8a8060" stroke="#555" stroke-width="0.3"/>
<rect x="859" y="304.8" width="67" height="32" rx="3" fill="#a99f73" stroke="#000" stroke-width="2.2"/>
<rect x="866" y="306" width="52" height="30" fill="#aaa078"/>
<path d="M868,310 V328 Q868,336 876,336 H909 Q917,336 917,328 V310" fill="none" stroke="#000" stroke-width="2.6"/>
<rect x="865.8" y="306" width="4.5" height="7" fill="#4a4a4a"/><rect x="914.8" y="306" width="4.5" height="7" fill="#4a4a4a"/>
<circle cx="862.8" cy="332.6" r="2.9" fill="#111"/><circle cx="922.2" cy="332.6" r="2.9" fill="#111"/>
<rect x="929" y="308.9" width="26" height="20.3" rx="1.2" fill="#fff"/><rect x="930.4" y="313.9" width="23.6" height="13.9" fill="#ff0000"/>
<rect x="858.5" y="338.5" width="67.8" height="19.6" fill="#cbc195" stroke="#000" stroke-width="1.6"/>
<circle cx="861" cy="348.3" r="1.1" fill="#666"/><circle cx="923.5" cy="348.3" r="1.1" fill="#666"/>
<path d="M833.5,359 V348 Q833.5,345 836.5,345 H848.5 Q851.5,345 851.5,348 V359" fill="#c4b98a" stroke="#6a6450" stroke-width="0.6"/>
<circle cx="837.5" cy="348.8" r="1.7" fill="none" stroke="#6a6450" stroke-width="0.5"/><circle cx="847.5" cy="348.8" r="1.7" fill="none" stroke="#6a6450" stroke-width="0.5"/>
<path d="M932.5,359 V348 Q932.5,345 935.5,345 H947.5 Q950.5,345 950.5,348 V359" fill="#c4b98a" stroke="#6a6450" stroke-width="0.6"/>
<circle cx="936.5" cy="348.8" r="1.7" fill="none" stroke="#6a6450" stroke-width="0.5"/><circle cx="946.5" cy="348.8" r="1.7" fill="none" stroke="#6a6450" stroke-width="0.5"/>
<rect x="828.2" y="252.9" width="128.29999999999995" height="106.49999999999997" fill="none" stroke="#111" stroke-width="2"/>
<g fill="none" stroke="#3c9a44" stroke-width="2"><line x1="957.5" y1="300.7" x2="988" y2="300.7"/><polyline points="1002,283.4 1016,283.4 1016,192.4 1033,192.4"/><polyline points="1002,319.1 1016,319.1 1016,360.3 1033,360.3"/></g>
<polygon points="1032,186.8 1032,198 1040.5,192.4" fill="#3c9a44"/><polygon points="1032,354.7 1032,365.9 1040.5,360.3" fill="#3c9a44"/>
<path d="M992.7,272.5 H1002 V329.6 H992.7 V307 H987.5 V295.6 H992.7 Z" fill="#ebf4fd" stroke="#111" stroke-width="1.4"/>
</g>
<!-- ===== PFD ===== -->
<g>
<rect x="1041.3" y="10" width="214.4" height="213.1" fill="#8a8a8a" stroke="#000" stroke-width="2"/>
<rect x="1051.9" y="20.1" width="193.1" height="193.2" fill="#5a5a5a"/>
<rect x="1058.3" y="27" width="179.8" height="179.7" fill="#000"/>
<clipPath id="pfdclip"><rect x="1058.3" y="27" width="179.8" height="179.1"/></clipPath>
<g clip-path="url(#pfdclip)">
<rect x="1084.1" y="30.4" width="108.2" height="10.3" fill="#4a4a4a"/>
<line x1="1120.7" y1="30.6" x2="1120.7" y2="40.5" stroke="#ccc" stroke-width="0.5"/><line x1="1156.2" y1="30.6" x2="1156.2" y2="40.5" stroke="#ccc" stroke-width="0.5"/>
<g font-size="6" fill="#1fd01f" text-anchor="middle"><text x="1103.4" y="36.2">FMC SPD</text><text x="1139.5" y="36.2">LNAV</text><text x="1175.5" y="36.2">VNAV PTH</text></g>
<text x="1074.3" y="43.5" font-size="5.4" fill="#d020d0" text-anchor="middle">138</text>
<text x="1196" y="44.3" font-size="8" fill="#d020d0">5</text><text x="1201.5" y="43.8" font-size="4.6" fill="#d020d0">100</text>
<g font-size="4.5" fill="#eee"><text x="1096" y="50.8">110.90/123°</text><text x="1096" y="56">DME 25.3</text></g>
<text x="1136.9" y="65" font-size="8.4" fill="#1fd01f" text-anchor="middle">CMD</text>
<rect x="1061.4" y="51.5" width="21.4" height="125" fill="#4a4a4a"/>
<text x="1077" y="55.6" font-size="5.6" fill="#f0f0f0" text-anchor="end">200</text>
<text x="1077" y="76.7" font-size="5.6" fill="#f0f0f0" text-anchor="end">180</text>
<text x="1077" y="97.3" font-size="5.6" fill="#f0f0f0" text-anchor="end">160</text>
<text x="1077" y="139.3" font-size="5.6" fill="#f0f0f0" text-anchor="end">120</text>
<text x="1077" y="159.7" font-size="5.6" fill="#f0f0f0" text-anchor="end">100</text>
<line x1="1079" y1="53.6" x2="1082.8" y2="53.6" stroke="#eee" stroke-width="0.6"/>
<line x1="1079" y1="63.9" x2="1082.8" y2="63.9" stroke="#eee" stroke-width="0.6"/>
<line x1="1079" y1="74.2" x2="1082.8" y2="74.2" stroke="#eee" stroke-width="0.6"/>
<line x1="1079" y1="84.5" x2="1082.8" y2="84.5" stroke="#eee" stroke-width="0.6"/>
<line x1="1079" y1="94.8" x2="1082.8" y2="94.8" stroke="#eee" stroke-width="0.6"/>
<line x1="1079" y1="105.1" x2="1082.8" y2="105.1" stroke="#eee" stroke-width="0.6"/>
<line x1="1079" y1="115.4" x2="1082.8" y2="115.4" stroke="#eee" stroke-width="0.6"/>
<line x1="1079" y1="125.7" x2="1082.8" y2="125.7" stroke="#eee" stroke-width="0.6"/>
<line x1="1079" y1="136.0" x2="1082.8" y2="136.0" stroke="#eee" stroke-width="0.6"/>
<line x1="1079" y1="146.3" x2="1082.8" y2="146.3" stroke="#eee" stroke-width="0.6"/>
<line x1="1079" y1="156.6" x2="1082.8" y2="156.6" stroke="#eee" stroke-width="0.6"/>
<line x1="1079" y1="166.9" x2="1082.8" y2="166.9" stroke="#eee" stroke-width="0.6"/>
<line x1="1079" y1="177.2" x2="1082.8" y2="177.2" stroke="#eee" stroke-width="0.6"/>
<rect x="1083.4" y="52.1" width="2.6" height="2.6" fill="#f01010"/>
<rect x="1083.4" y="57.8" width="2.6" height="2.6" fill="#f01010"/>
<rect x="1083.4" y="63.5" width="2.6" height="2.6" fill="#f01010"/>
<rect x="1083.4" y="69.3" width="2.6" height="2.6" fill="#f01010"/>
<rect x="1083.4" y="75.0" width="2.6" height="2.6" fill="#f01010"/>
<rect x="1083.6" y="138.0" width="2.2" height="2.2" fill="#f01010"/>
<rect x="1083.6" y="142.8" width="2.2" height="2.2" fill="#f01010"/>
<rect x="1083.6" y="147.6" width="2.2" height="2.2" fill="#f01010"/>
<rect x="1083.6" y="152.4" width="2.2" height="2.2" fill="#f01010"/>
<rect x="1083.6" y="157.2" width="2.2" height="2.2" fill="#f01010"/>
<rect x="1083.6" y="162.0" width="2.2" height="2.2" fill="#f01010"/>
<rect x="1083.6" y="166.8" width="2.2" height="2.2" fill="#f01010"/>
<rect x="1083.6" y="171.6" width="2.2" height="2.2" fill="#f01010"/>
<rect x="1083.2" y="128" width="1.2" height="8" fill="#e0a000"/>
<path d="M1083,117.5 H1092 V122.5 H1083" fill="none" stroke="#d020d0" stroke-width="0.8"/>
<text x="1086" y="126.8" font-size="3" fill="#1fd01f">REF</text>
<path d="M1060.6,105.6 H1076.4 V111.5 L1079.5,114.3 L1076.4,117.1 V123.1 H1060.6 Z" fill="#000" stroke="#ddd" stroke-width="0.7"/>
<text x="1062.5" y="118.5" font-size="8" fill="#fff">14</text><text x="1073" y="112.5" font-size="4" fill="#fff">3</text><text x="1073" y="121.5" font-size="4" fill="#fff">2</text>
<clipPath id="adiclip"><rect x="1091.8" y="69" width="89.4" height="88.7" rx="8"/></clipPath>
<g clip-path="url(#adiclip)"><rect x="1091.8" y="69" width="89.4" height="44.3" fill="#1166cc"/><rect x="1091.8" y="113.3" width="89.4" height="44.4" fill="#6a3a0c"/></g>
<line x1="1124.4" y1="85.3" x2="1148.4" y2="85.3" stroke="#eee" stroke-width="0.6"/>
<line x1="1131.4" y1="89.3" x2="1141.4" y2="89.3" stroke="#eee" stroke-width="0.6"/>
<line x1="1124.4" y1="94.3" x2="1148.4" y2="94.3" stroke="#eee" stroke-width="0.6"/>
<line x1="1131.4" y1="99.3" x2="1141.4" y2="99.3" stroke="#eee" stroke-width="0.6"/>
<line x1="1124.4" y1="104.3" x2="1148.4" y2="104.3" stroke="#eee" stroke-width="0.6"/>
<line x1="1131.4" y1="109.3" x2="1141.4" y2="109.3" stroke="#eee" stroke-width="0.6"/>
<line x1="1131.4" y1="117.3" x2="1141.4" y2="117.3" stroke="#eee" stroke-width="0.6"/>
<line x1="1124.4" y1="122.3" x2="1148.4" y2="122.3" stroke="#eee" stroke-width="0.6"/>
<line x1="1131.4" y1="127.3" x2="1141.4" y2="127.3" stroke="#eee" stroke-width="0.6"/>
<line x1="1124.4" y1="132.3" x2="1148.4" y2="132.3" stroke="#eee" stroke-width="0.6"/>
<line x1="1131.4" y1="137.3" x2="1141.4" y2="137.3" stroke="#eee" stroke-width="0.6"/>
<line x1="1131.4" y1="80.3" x2="1141.4" y2="80.3" stroke="#eee" stroke-width="0.6"/>
<line x1="1116" y1="94.3" x2="1156.8" y2="94.3" stroke="#eee" stroke-width="0.6"/>
<text x="1113" y="95.8" font-size="4" fill="#eee" text-anchor="end">10</text><text x="1159.5" y="95.8" font-size="4" fill="#eee">10</text>
<line x1="1116" y1="132.3" x2="1156.8" y2="132.3" stroke="#eee" stroke-width="0.6"/>
<text x="1113" y="133.8" font-size="4" fill="#eee" text-anchor="end">10</text><text x="1159.5" y="133.8" font-size="4" fill="#eee">10</text>
<line x1="1116" y1="151.3" x2="1156.8" y2="151.3" stroke="#eee" stroke-width="0.6"/>
<text x="1113" y="152.8" font-size="4" fill="#eee" text-anchor="end">20</text><text x="1159.5" y="152.8" font-size="4" fill="#eee">20</text>
<line x1="1104.4" y1="94.8" x2="1100.9" y2="92.8" stroke="#eee" stroke-width="0.7"/>
<line x1="1109.5" y1="86.4" x2="1108.1" y2="85.0" stroke="#eee" stroke-width="0.7"/>
<line x1="1117.9" y1="81.3" x2="1115.9" y2="77.8" stroke="#eee" stroke-width="0.7"/>
<line x1="1123.4" y1="77.6" x2="1122.7" y2="75.7" stroke="#eee" stroke-width="0.7"/>
<line x1="1129.8" y1="75.9" x2="1129.5" y2="73.9" stroke="#eee" stroke-width="0.7"/>
<line x1="1143.0" y1="75.9" x2="1143.3" y2="73.9" stroke="#eee" stroke-width="0.7"/>
<line x1="1149.4" y1="77.6" x2="1150.1" y2="75.7" stroke="#eee" stroke-width="0.7"/>
<line x1="1154.9" y1="81.3" x2="1156.9" y2="77.8" stroke="#eee" stroke-width="0.7"/>
<line x1="1163.3" y1="86.4" x2="1164.7" y2="85.0" stroke="#eee" stroke-width="0.7"/>
<line x1="1168.4" y1="94.8" x2="1171.9" y2="92.8" stroke="#eee" stroke-width="0.7"/>
<path d="M1133.5,69.5 H1139.3 L1136.4,74 Z M1133,78.5 L1136.4,74 L1139.8,78.5 Z" fill="none" stroke="#eee" stroke-width="0.7"/>
<line x1="1136.4" y1="88.9" x2="1136.4" y2="140.4" stroke="#ff20ff" stroke-width="1.2"/><line x1="1109.9" y1="111.3" x2="1162.7" y2="111.3" stroke="#ff20ff" stroke-width="1.2"/>
<path d="M1099.6,112.4 H1118.9 V120.3 H1116.5 V115 H1099.6 Z M1173.2,112.4 H1153.9 V120.3 H1156.3 V115 H1173.2 Z" fill="#000" stroke="#eee" stroke-width="0.6"/>
<rect x="1134.6" y="111.6" width="3.6" height="3.6" fill="#000" stroke="#eee" stroke-width="0.5"/>
<circle cx="1171.2" cy="75.5" r="4" fill="#003c3c" stroke="#000" stroke-width="0.6"/><text x="1171.2" y="77" font-size="3.6" fill="#1fd01f" text-anchor="middle">CM</text>
<circle cx="1111.1" cy="161.8" r="1.3" fill="none" stroke="#eee" stroke-width="0.6"/>
<circle cx="1124" cy="161.8" r="1.3" fill="none" stroke="#eee" stroke-width="0.6"/>
<circle cx="1149" cy="161.8" r="1.3" fill="none" stroke="#eee" stroke-width="0.6"/>
<circle cx="1161.9" cy="161.8" r="1.3" fill="none" stroke="#eee" stroke-width="0.6"/>
<circle cx="1182.5" cy="88.9" r="1.3" fill="none" stroke="#eee" stroke-width="0.6"/>
<circle cx="1182.5" cy="101.2" r="1.3" fill="none" stroke="#eee" stroke-width="0.6"/>
<circle cx="1182.5" cy="126.2" r="1.3" fill="none" stroke="#eee" stroke-width="0.6"/>
<circle cx="1182.5" cy="139.1" r="1.3" fill="none" stroke="#eee" stroke-width="0.6"/>
<path d="M1136.4,158.8 L1139,161.8 L1136.4,164.8 L1133.8,161.8 Z" fill="#ff20ff"/><path d="M1182.5,107.8 L1185,110.8 L1182.5,113.8 L1180,110.8 Z" fill="#ff20ff"/>
<rect x="1193" y="51.5" width="22" height="123.7" fill="#4a4a4a"/>
<line x1="1193" y1="56.0" x2="1197" y2="56.0" stroke="#eee" stroke-width="0.6"/>
<line x1="1193" y1="66.5" x2="1197" y2="66.5" stroke="#eee" stroke-width="0.6"/>
<line x1="1193" y1="77.0" x2="1197" y2="77.0" stroke="#eee" stroke-width="0.6"/>
<line x1="1193" y1="87.5" x2="1197" y2="87.5" stroke="#eee" stroke-width="0.6"/>
<line x1="1193" y1="98.0" x2="1197" y2="98.0" stroke="#eee" stroke-width="0.6"/>
<line x1="1193" y1="108.5" x2="1197" y2="108.5" stroke="#eee" stroke-width="0.6"/>
<line x1="1193" y1="119.0" x2="1197" y2="119.0" stroke="#eee" stroke-width="0.6"/>
<line x1="1193" y1="129.5" x2="1197" y2="129.5" stroke="#eee" stroke-width="0.6"/>
<line x1="1193" y1="140.0" x2="1197" y2="140.0" stroke="#eee" stroke-width="0.6"/>
<line x1="1193" y1="150.5" x2="1197" y2="150.5" stroke="#eee" stroke-width="0.6"/>
<line x1="1193" y1="161.0" x2="1197" y2="161.0" stroke="#eee" stroke-width="0.6"/>
<line x1="1193" y1="171.5" x2="1197" y2="171.5" stroke="#eee" stroke-width="0.6"/>
<text x="1213" y="84" font-size="4.6" fill="#eee" text-anchor="end">5000</text><line x1="1197" y1="79.2" x2="1214" y2="79.2" stroke="#eee" stroke-width="0.5"/><line x1="1197" y1="86.5" x2="1214" y2="86.5" stroke="#eee" stroke-width="0.5"/>
<text x="1213" y="147.5" font-size="4.6" fill="#eee" text-anchor="end">4600</text>
<text x="1213" y="54" font-size="4" fill="#eee" text-anchor="end">5200</text><text x="1213" y="177" font-size="4" fill="#eee" text-anchor="end">4400</text>
<line x1="1189" y1="82.5" x2="1195" y2="82.5" stroke="#eee" stroke-width="1.2"/>
<path d="M1190.5,58.7 H1201.3 V75.5 H1190.5 V69 L1193.5,67 L1190.5,65 Z" fill="none" stroke="#d020d0" stroke-width="0.8"/><line x1="1192" y1="67" x2="1198" y2="67" stroke="#eee" stroke-width="1"/>
<path d="M1200,105.6 H1224.5 V123.1 H1200 V117 L1196.5,114.3 L1200,111.6 Z" fill="#000" stroke="#ddd" stroke-width="0.7"/>
<rect x="1201.5" y="111" width="2.5" height="6" fill="#1fd01f"/><text x="1205" y="118.3" font-size="7.2" fill="#fff">4</text><text x="1209.5" y="117" font-size="4.4" fill="#fff">800</text>
<path d="M1220.1,70.8 H1227.1 L1236.1,90.2 V137.8 L1227.1,157.1 H1220.1 Z" fill="#4a4a4a"/>
<g font-size="3.8" fill="#ddd"><text x="1221" y="75.5">6-</text><text x="1221" y="84">2-</text><text x="1221" y="96.5">1-</text><text x="1221" y="133">1-</text><text x="1221" y="145">2-</text><text x="1221" y="155">6-</text></g>
<line x1="1224" y1="123" x2="1236" y2="117" stroke="#fff" stroke-width="1"/>
<text x="1231" y="167" font-size="5" fill="#eee" text-anchor="middle">500</text>
<g font-size="4.2" fill="#1fd01f" text-anchor="middle"><text x="1174.3" y="172">RADIO</text><text x="1174.3" y="178.5" font-size="4.8">150</text></g>
<text x="1194.5" y="187.5" font-size="5" fill="#1fd01f">29.86</text><text x="1216.5" y="187.5" font-size="3.8" fill="#1fd01f">IN</text>
<circle cx="1136.4" cy="234.7" r="54.4" fill="#5a5a5a"/>
<line x1="1089.3" y1="207.5" x2="1093.1" y2="209.7" stroke="#eee" stroke-width="0.6"/>
<line x1="1094.7" y1="199.7" x2="1098.1" y2="202.6" stroke="#eee" stroke-width="0.6"/>
<line x1="1101.4" y1="193.0" x2="1104.3" y2="196.4" stroke="#eee" stroke-width="0.6"/>
<line x1="1109.2" y1="187.6" x2="1111.4" y2="191.4" stroke="#eee" stroke-width="0.6"/>
<line x1="1117.8" y1="183.6" x2="1119.3" y2="187.7" stroke="#eee" stroke-width="0.6"/>
<line x1="1127.0" y1="181.1" x2="1127.7" y2="185.5" stroke="#eee" stroke-width="0.6"/>
<line x1="1136.4" y1="180.3" x2="1136.4" y2="184.7" stroke="#eee" stroke-width="0.6"/>
<line x1="1145.8" y1="181.1" x2="1145.1" y2="185.5" stroke="#eee" stroke-width="0.6"/>
<line x1="1155.0" y1="183.6" x2="1153.5" y2="187.7" stroke="#eee" stroke-width="0.6"/>
<line x1="1163.6" y1="187.6" x2="1161.4" y2="191.4" stroke="#eee" stroke-width="0.6"/>
<line x1="1171.4" y1="193.0" x2="1168.5" y2="196.4" stroke="#eee" stroke-width="0.6"/>
<line x1="1178.1" y1="199.7" x2="1174.7" y2="202.6" stroke="#eee" stroke-width="0.6"/>
<line x1="1183.5" y1="207.5" x2="1179.7" y2="209.7" stroke="#eee" stroke-width="0.6"/>
<text x="1121.0" y="194.4" font-size="5.5" fill="#eee" text-anchor="middle" transform="rotate(-20 1121.0 192.4)">11</text>
<text x="1107.5" y="202.2" font-size="5.5" fill="#eee" text-anchor="middle" transform="rotate(-40 1107.5 200.2)">10</text>
<text x="1136.4" y="191.7" font-size="5.5" fill="#eee" text-anchor="middle" transform="rotate(0 1136.4 189.7)">12</text>
<text x="1151.8" y="194.4" font-size="5.5" fill="#eee" text-anchor="middle" transform="rotate(20 1151.8 192.4)">13</text>
<text x="1165.3" y="202.2" font-size="5.5" fill="#eee" text-anchor="middle" transform="rotate(40 1165.3 200.2)">14</text>
<path d="M1133.4,177 H1139.4 L1136.4,182 Z" fill="none" stroke="#eee" stroke-width="0.7"/>
<line x1="1128" y1="185" x2="1131" y2="206" stroke="#eee" stroke-width="0.6"/>
<text x="1120" y="202" font-size="4" fill="#d020d0">138 H</text><text x="1150" y="202" font-size="4" fill="#1fd01f">MAG</text>
<text x="1158" y="185.5" font-size="4.5" fill="#d020d0" transform="rotate(25 1158 185.5)">0/2</text>
</g>
</g>
<!-- ===== ND ===== -->
<g>
<rect x="1041.3" y="261.3" width="213.9" height="213.09999999999997" fill="#8a8a8a" stroke="#000" stroke-width="2"/>
<rect x="1051.9" y="270.6" width="193.1" height="194" fill="#5a5a5a"/>
<rect x="1058.3" y="277.8" width="179.8" height="179.6" fill="#000"/>
<clipPath id="ndclip"><rect x="1058.3" y="277.8" width="179.8" height="179.6"/></clipPath>
<g clip-path="url(#ndclip)">
<path d="M1061.2,333.4 A121.3,121.3 0 0 1 1235.8,333.4" fill="none" stroke="#eee" stroke-width="0.8"/>
<line x1="1062.7" y1="331.9" x2="1064.5" y2="333.7" stroke="#eee" stroke-width="0.7"/>
<line x1="1070.5" y1="324.8" x2="1073.4" y2="328.2" stroke="#eee" stroke-width="0.7"/>
<line x1="1078.9" y1="318.3" x2="1080.4" y2="320.4" stroke="#eee" stroke-width="0.7"/>
<line x1="1087.9" y1="312.7" x2="1090.1" y2="316.5" stroke="#eee" stroke-width="0.7"/>
<line x1="1097.2" y1="307.8" x2="1098.3" y2="310.0" stroke="#eee" stroke-width="0.7"/>
<line x1="1107.0" y1="303.7" x2="1108.6" y2="307.9" stroke="#eee" stroke-width="0.7"/>
<line x1="1117.1" y1="300.5" x2="1117.8" y2="302.9" stroke="#eee" stroke-width="0.7"/>
<line x1="1127.4" y1="298.2" x2="1128.2" y2="302.7" stroke="#eee" stroke-width="0.7"/>
<line x1="1137.9" y1="296.9" x2="1138.1" y2="299.4" stroke="#eee" stroke-width="0.7"/>
<line x1="1148.5" y1="296.4" x2="1148.5" y2="300.9" stroke="#eee" stroke-width="0.7"/>
<line x1="1159.1" y1="296.9" x2="1158.9" y2="299.4" stroke="#eee" stroke-width="0.7"/>
<line x1="1169.6" y1="298.2" x2="1168.8" y2="302.7" stroke="#eee" stroke-width="0.7"/>
<line x1="1179.9" y1="300.5" x2="1179.2" y2="302.9" stroke="#eee" stroke-width="0.7"/>
<line x1="1190.0" y1="303.7" x2="1188.4" y2="307.9" stroke="#eee" stroke-width="0.7"/>
<line x1="1199.8" y1="307.8" x2="1198.7" y2="310.0" stroke="#eee" stroke-width="0.7"/>
<line x1="1209.2" y1="312.7" x2="1206.9" y2="316.5" stroke="#eee" stroke-width="0.7"/>
<line x1="1218.1" y1="318.3" x2="1216.6" y2="320.4" stroke="#eee" stroke-width="0.7"/>
<line x1="1226.5" y1="324.8" x2="1223.6" y2="328.2" stroke="#eee" stroke-width="0.7"/>
<line x1="1234.3" y1="331.9" x2="1232.5" y2="333.7" stroke="#eee" stroke-width="0.7"/>
<text x="1108.6" y="313.8" font-size="6.2" fill="#eee" text-anchor="middle" transform="rotate(-22 1108.6 311.8)">12</text>
<text x="1168.2" y="310.5" font-size="6.2" fill="#eee" text-anchor="middle" transform="rotate(8 1168.2 308.5)">15</text>
<text x="1221.0" y="336.0" font-size="6.2" fill="#eee" text-anchor="middle" transform="rotate(40 1221.0 334.0)">18</text>
<text x="1061" y="284.8" font-size="4" fill="#eee">GS</text><text x="1066.5" y="284.8" font-size="5.6" fill="#eee">351</text><text x="1084" y="284.8" font-size="4" fill="#eee">TAS</text><text x="1091.5" y="284.8" font-size="5.6" fill="#eee">338</text>
<text x="1061" y="292" font-size="5.5" fill="#eee">336°/15</text>
<line x1="1066.2" y1="306.5" x2="1070" y2="295.5" stroke="#eee" stroke-width="0.6"/><path d="M1069,295 L1070.5,294 L1070.6,297 Z" fill="#eee"/>
<text x="1124" y="288.2" font-size="5.4" fill="#1fd01f">HDG</text><rect x="1138.7" y="280.4" width="19.6" height="10.3" fill="#000" stroke="#eee" stroke-width="0.7"/><text x="1148.5" y="288.8" font-size="8" fill="#fff" text-anchor="middle">090</text><text x="1160" y="288.2" font-size="5.4" fill="#1fd01f">MAG</text>
<path d="M1145.7,291 H1151.3 L1148.5,296 Z" fill="none" stroke="#eee" stroke-width="0.6"/>
<text x="1210.3" y="283.5" font-size="5.6" fill="#d020d0">GRH</text><text x="1210.3" y="290" font-size="5.2" fill="#eee">0838.4Z</text><text x="1210.3" y="296.5" font-size="5.2" fill="#eee">32.5</text><text x="1225" y="296.5" font-size="4" fill="#eee">NM</text>
<path d="M1155,297.7 Q1151,350 1149.8,400.7" fill="none" stroke="#eee" stroke-width="0.8"/>
<line x1="1148.5" y1="323" x2="1154" y2="323" stroke="#eee" stroke-width="0.6"/>
<line x1="1148.5" y1="358" x2="1154" y2="358" stroke="#eee" stroke-width="0.6"/>
<line x1="1148.5" y1="388" x2="1154" y2="388" stroke="#eee" stroke-width="0.6"/>
<text x="1143.5" y="360" font-size="4.8" fill="#eee" text-anchor="middle">40</text>
<polyline points="1131.8,306.7 1175.5,337.1 1189.7,376.7 1162.7,439.3" fill="none" stroke="#d020d0" stroke-width="1"/>
<line x1="1082.7" y1="327.6" x2="1147.2" y2="417.4" stroke="#d020d0" stroke-width="0.9" stroke-dasharray="2.6 4.2"/>
<path d="M1175.5,332.1 L1176.7,335.90000000000003 L1180.5,337.1 L1176.7,338.3 L1175.5,342.1 L1174.3,338.3 L1170.5,337.1 L1174.3,335.90000000000003 Z" fill="none" stroke="#d020d0" stroke-width="0.7"/>
<text x="1180.5" y="340.6" font-size="4.2" fill="#d020d0">MPO</text>
<path d="M1189.7,371.7 L1190.9,375.5 L1194.7,376.7 L1190.9,377.9 L1189.7,381.7 L1188.5,377.9 L1184.7,376.7 L1188.5,375.5 Z" fill="none" stroke="#d020d0" stroke-width="0.7"/>
<text x="1194.7" y="380.2" font-size="4.2" fill="#d020d0">GRH</text>
<circle cx="1136.5" cy="311" r="1" fill="#1fd01f"/><text x="1139" y="312.5" font-size="4.4" fill="#1fd01f">T/D</text>
<text x="1073" y="320" font-size="4.2" fill="#d020d0" transform="rotate(-35 1073 320)">0/2</text>
<path d="M1143.3,432.9 H1153.1 L1148.2,418.7 Z" fill="none" stroke="#eee" stroke-width="0.8"/>
<path d="M1147.5,418 Q1151,407 1158,406.5 H1164" fill="none" stroke="#eee" stroke-width="0.7"/>
<g fill="none" stroke="#1fd01f" stroke-width="0.7"><circle cx="1100.8" cy="391.2" r="1.6"/><circle cx="1098.0" cy="389.2" r="1"/><circle cx="1103.6" cy="389.2" r="1"/><circle cx="1100.8" cy="394.2" r="1"/></g>
<text x="1105.3" y="396.7" font-size="4.2" fill="#1fd01f">YKM</text>
<g fill="none" stroke="#1fd01f" stroke-width="0.7"><circle cx="1192.8" cy="407.7" r="1.6"/><circle cx="1190.0" cy="405.7" r="1"/><circle cx="1195.6" cy="405.7" r="1"/><circle cx="1192.8" cy="410.7" r="1"/></g>
<text x="1197.3" y="413.2" font-size="4.2" fill="#1fd01f">ELN</text>
<g font-size="5.3" fill="#1fd01f"><text x="1060.5" y="441.5">VOR 1</text><text x="1060.5" y="447.5">116.00</text><text x="1060.5" y="454">DME 35.1</text><text x="1115" y="454">FMC L</text><text x="1210.3" y="441.5">VOR 2</text><text x="1210.3" y="447.5">ELN</text><text x="1210.3" y="454">DME 28.5</text></g>
</g>
</g>
<!-- ===== RMI ===== -->
<g>
<polygon points="1061.8,514.5 1182.3,514.5 1207.6,540 1207.6,658.7 1182.3,682.4 1061.8,682.4 1036.3,658.7 1036.3,540" fill="#7a7a7a" stroke="#000" stroke-width="2"/>
<polygon points="1082,530.9 1161.5,530.9 1194,561 1194,636 1164,666.5 1080,666.5 1050,636 1050,561" fill="#000" stroke="#ddd" stroke-width="0.8"/>
<path d="M1063.6,630.9 Q1069.6,642.9 1074.6,649.9 A12,12 0 1 1 1052.6,649.9 Q1057.6,642.9 1063.6,630.9 Z" fill="#000" stroke="#ddd" stroke-width="0.8"/>
<path d="M1063.6,634.9 Q1068.6,644.9 1072.1,650.9 A9.5,9.5 0 1 1 1055.1,650.9 Q1058.6,644.9 1063.6,634.9 Z" fill="none" stroke="#ddd" stroke-width="0.6"/>
<path d="M1180.5,630.9 Q1186.5,642.9 1191.5,649.9 A12,12 0 1 1 1169.5,649.9 Q1174.5,642.9 1180.5,630.9 Z" fill="#000" stroke="#ddd" stroke-width="0.8"/>
<path d="M1180.5,634.9 Q1185.5,644.9 1189.0,650.9 A9.5,9.5 0 1 1 1172.0,650.9 Q1175.5,644.9 1180.5,634.9 Z" fill="none" stroke="#ddd" stroke-width="0.6"/>
<path d="M1063.6,637.5 L1058.5,647 H1068.7 Z" fill="none" stroke="#eee" stroke-width="0.8"/><line x1="1063.6" y1="647" x2="1063.6" y2="663" stroke="#eee" stroke-width="1.2" stroke-dasharray="1 0.8"/>
<path d="M1180.5,636 L1175.8,645 H1185.2 Z" fill="none" stroke="#eee" stroke-width="0.8"/><path d="M1177.5,645 V663 M1183.5,645 V663 M1180.5,648 V663" stroke="#eee" stroke-width="0.7"/>
<path d="M1098.6,540.9 A65,65 0 0 1 1158.2,547.7 L1154.6,553.1 A58.5,58.5 0 0 0 1100.9,547.0 Z" fill="#ff4a10"/>
<rect x="1100" y="540.5" width="19.5" height="8.8" fill="#ff4a10" transform="rotate(-9 1110 545)"/>
<path d="M1074.6,638.5 A60,60 0 0 1 1065.5,581.1 Q1071.5,609.6 1074.6,638.5 Z" fill="#ff4a10"/>
<path d="M1178.3,581.1 A60,60 0 0 1 1169.2,638.5 Q1172.3,609.6 1178.3,581.1 Z" fill="#ff4a10"/>
<circle cx="1121.9" cy="601.6" r="60" fill="none" stroke="#eee" stroke-width="0.8"/>
<path d="M1121.9,556.6L1121.9,543.1M1126.3,551.8L1127.0,543.3M1129.7,557.3L1132.1,544.0M1134.8,553.3L1137.0,545.1M1137.3,559.3L1141.9,546.6M1143.0,556.3L1146.6,548.6M1144.4,562.6L1151.2,550.9M1150.6,560.6L1155.5,553.7M1150.8,567.1L1159.5,556.8M1157.3,566.2L1163.3,560.2M1156.4,572.7L1166.7,564.0M1162.9,572.9L1169.8,568.0M1160.9,579.1L1172.6,572.4M1167.2,580.5L1174.9,576.9M1164.2,586.2L1176.9,581.6M1170.2,588.7L1178.4,586.5M1166.2,593.8L1179.5,591.4M1171.7,597.2L1180.2,596.5M1166.9,601.6L1180.4,601.6M1171.7,606.0L1180.2,606.7M1166.2,609.4L1179.5,611.8M1170.2,614.5L1178.4,616.7M1164.2,617.0L1176.9,621.6M1167.2,622.7L1174.9,626.3M1160.9,624.1L1172.6,630.9M1162.9,630.3L1169.8,635.2M1156.4,630.5L1166.7,639.2M1157.3,637.0L1163.3,643.0M1150.8,636.1L1159.5,646.4M1150.6,642.6L1155.5,649.5M1144.4,640.6L1151.2,652.3M1143.0,646.9L1146.6,654.6M1137.3,643.9L1141.9,656.6M1134.8,649.9L1137.0,658.1M1129.7,645.9L1132.1,659.2M1126.3,651.4L1127.0,659.9M1121.9,646.6L1121.9,660.1M1117.5,651.4L1116.8,659.9M1114.1,645.9L1111.7,659.2M1109.0,649.9L1106.8,658.1M1106.5,643.9L1101.9,656.6M1100.8,646.9L1097.2,654.6M1099.4,640.6L1092.7,652.3M1093.2,642.6L1088.3,649.5M1093.0,636.1L1084.3,646.4M1086.5,637.0L1080.5,643.0M1087.4,630.5L1077.1,639.2M1080.9,630.3L1074.0,635.2M1082.9,624.1L1071.2,630.9M1076.6,622.7L1068.9,626.3M1079.6,617.0L1066.9,621.6M1073.6,614.5L1065.4,616.7M1077.6,609.4L1064.3,611.8M1072.1,606.0L1063.6,606.7M1076.9,601.6L1063.4,601.6M1072.1,597.2L1063.6,596.5M1077.6,593.8L1064.3,591.4M1073.6,588.7L1065.4,586.5M1079.6,586.2L1066.9,581.6M1076.6,580.5L1068.9,576.9M1082.9,579.1L1071.2,572.4M1080.9,572.9L1074.0,568.0M1087.4,572.7L1077.1,564.0M1086.5,566.2L1080.5,560.2M1093.0,567.1L1084.3,556.8M1093.2,560.6L1088.3,553.7M1099.4,562.6L1092.7,550.9M1100.8,556.3L1097.2,548.6M1106.5,559.3L1101.9,546.6M1109.0,553.3L1106.8,545.1M1114.1,557.3L1111.7,544.0M1117.5,551.8L1116.8,543.3" stroke="#eee" stroke-width="1.1"/>
<text x="1121.9" y="564.6" font-size="14.5" fill="#eee" text-anchor="middle" dominant-baseline="central" transform="rotate(0 1121.9 564.6)">0</text>
<text x="1140.4" y="569.6" font-size="14.5" fill="#eee" text-anchor="middle" dominant-baseline="central" transform="rotate(30 1140.4 569.6)">3</text>
<text x="1153.9" y="583.1" font-size="14.5" fill="#eee" text-anchor="middle" dominant-baseline="central" transform="rotate(60 1153.9 583.1)">6</text>
<text x="1158.9" y="601.6" font-size="14.5" fill="#eee" text-anchor="middle" dominant-baseline="central" transform="rotate(90 1158.9 601.6)">9</text>
<text x="1153.9" y="620.1" font-size="14.5" fill="#eee" text-anchor="middle" dominant-baseline="central" transform="rotate(120 1153.9 620.1)">12</text>
<text x="1140.4" y="633.6" font-size="14.5" fill="#eee" text-anchor="middle" dominant-baseline="central" transform="rotate(150 1140.4 633.6)">15</text>
<text x="1121.9" y="638.6" font-size="14.5" fill="#eee" text-anchor="middle" dominant-baseline="central" transform="rotate(180 1121.9 638.6)">18</text>
<text x="1103.4" y="633.6" font-size="14.5" fill="#eee" text-anchor="middle" dominant-baseline="central" transform="rotate(210 1103.4 633.6)">21</text>
<text x="1089.9" y="620.1" font-size="14.5" fill="#eee" text-anchor="middle" dominant-baseline="central" transform="rotate(240 1089.9 620.1)">24</text>
<text x="1084.9" y="601.6" font-size="14.5" fill="#eee" text-anchor="middle" dominant-baseline="central" transform="rotate(270 1084.9 601.6)">27</text>
<text x="1089.9" y="583.1" font-size="14.5" fill="#eee" text-anchor="middle" dominant-baseline="central" transform="rotate(300 1089.9 583.1)">30</text>
<text x="1103.4" y="569.6" font-size="14.5" fill="#eee" text-anchor="middle" dominant-baseline="central" transform="rotate(330 1103.4 569.6)">33</text>
<text x="1110" y="547.6" font-size="6.4" fill="#000" text-anchor="middle" transform="rotate(-9 1110 545)">HDG</text>
<polygon points="1118.2,530.9 1126.6,530.9 1122.4,546.9" fill="#fff"/>
<path d="M1073.1709286675639,553.3297442799461 L1079.1709286675639,553.3297442799461 L1076.1709286675639,558.3297442799461 Z" fill="#fff" transform="rotate(45 1076.2 555.3)"/>
<path d="M1164.8600269179003,553.3297442799461 L1170.8600269179003,553.3297442799461 L1167.8600269179003,558.3297442799461 Z" fill="#fff" transform="rotate(-45 1167.9 555.3)"/>
<path d="M1073.1709286675639,644.1776581426649 L1079.1709286675639,644.1776581426649 L1076.1709286675639,649.1776581426649 Z" fill="#fff" transform="rotate(-45 1076.2 646.2)"/>
<path d="M1164.8600269179003,644.1776581426649 L1170.8600269179003,644.1776581426649 L1167.8600269179003,649.1776581426649 Z" fill="#fff" transform="rotate(45 1167.9 646.2)"/>
<path d="M1055.5060565275908,599.5948855989233 L1061.5060565275908,599.5948855989233 L1058.5060565275908,604.5948855989233 Z" fill="#fff" transform="rotate(90 1058.5 601.6)"/>
<path d="M1181.6837146702558,599.5948855989233 L1187.6837146702558,599.5948855989233 L1184.6837146702558,604.5948855989233 Z" fill="#fff" transform="rotate(-90 1184.7 601.6)"/>
<path d="M1118.9313593539705,657.6366083445491 L1124.9313593539705,657.6366083445491 L1121.9313593539705,662.6366083445491 Z" fill="#fff" transform="rotate(0 1121.9 659.6)"/>
<g font-size="7.2" fill="#eee" text-anchor="middle"><text x="1059.3" y="611.8">V</text><text x="1059.3" y="622.6">O</text><text x="1059.3" y="632.8">R</text><text x="1187" y="611.8">V</text><text x="1187" y="622.6">O</text><text x="1187" y="632.8">R</text></g>
<g font-size="7" fill="#eee"><text x="1082.5" y="665.5">ADF</text><text x="1143" y="665.5">ADF</text></g>
<path d="M1104,662.5 H1118 M1126,662.5 H1140" stroke="#ddd" stroke-width="1.5"/>
<g transform="translate(1144.3,637.8) rotate(-120.1)">
<path d="M0,-2.2 L67.6,-2.2 L67.6,-5.5 L85.6,0 L67.6,5.5 L67.6,2.2 L0,2.2 Z" fill="#000" stroke="#eee" stroke-width="0.8"/>
<path d="M70.6,-3 L81.6,0 L70.6,3 Z" fill="none" stroke="#eee" stroke-width="0.6"/>
<line x1="4" y1="0" x2="65.6" y2="0" stroke="#eee" stroke-width="0.5"/>
</g>
<g transform="translate(1169.5,588.1) rotate(166.0)">
<path d="M0,-2.5 L77.1,-2.5 L77.1,2.5 L0,2.5 Z" fill="#000" stroke="#eee" stroke-width="0.8"/>
<path d="M2,0 H75.1" stroke="#eee" stroke-width="1.6" stroke-dasharray="2.2 1.2"/>
<path d="M73.1,-7.5 L97.1,0 L73.1,7.5 L77.1,0 Z" fill="#fff"/>
</g>
<circle cx="1121.9" cy="601.6" r="10.5" fill="#000" stroke="#eee" stroke-width="0.9"/><circle cx="1121.9" cy="601.6" r="8.3" fill="none" stroke="#eee" stroke-width="0.5"/><circle cx="1121.9" cy="601.6" r="1.1" fill="#eee"/>
<path d="M1070,583 L1066,585 L1070,587 Z M1071,585 L1067,588 L1071,590Z" fill="#ff4a10"/>
<path d="M1068.5,598 V612 M1066.5,602 L1068.5,598 L1070.5,602" stroke="#fff" stroke-width="0.7" fill="none"/>
<path d="M1175.3,598 V614 M1177.3,598 V614 M1173.5,602 L1176.3,597 L1179,602" stroke="#fff" stroke-width="0.6" fill="none"/>
</g>
<!-- ===== IRS MASTER CAUTION UNIT ===== -->
<g stroke-linejoin="round">
<polygon points="925.3,729.6 984,695.7 1043.5,722.1 971.7,761" fill="#262626" stroke="#777" stroke-width="0.6"/>
<polygon points="925.3,729.6 971.7,761 971.7,813 925.3,778.9" fill="#2a2a2a" stroke="#2a2a2a" stroke-width="0.4"/>
<line x1="925.3" y1="729.6" x2="971.7" y2="758" stroke="#8a8a8a" stroke-width="0.5"/>
<polygon points="971.2,760 1044,720.5 1044,773.9 971.2,814" fill="#000" stroke="#8a8a8a" stroke-width="1"/>
<line x1="971.7" y1="758.5" x2="1043.5" y2="721" stroke="#777" stroke-width="1.2" stroke-dasharray="0.6 0.6"/>
<circle cx="977.2" cy="769.3" r="3.7" fill="#b8b8b8" stroke="#666" stroke-width="0.5"/><circle cx="977.9000000000001" cy="769.5999999999999" r="2.2" fill="#9c9c9c"/>
<circle cx="1041.3" cy="733.1" r="3.7" fill="#b8b8b8" stroke="#666" stroke-width="0.5"/><circle cx="1042.0" cy="733.4" r="2.2" fill="#9c9c9c"/>
<circle cx="1041.3" cy="768.6" r="3.7" fill="#b8b8b8" stroke="#666" stroke-width="0.5"/><circle cx="1042.0" cy="768.9" r="2.2" fill="#9c9c9c"/>
<circle cx="977.2" cy="804.9" r="3.7" fill="#b8b8b8" stroke="#666" stroke-width="0.5"/><circle cx="977.9000000000001" cy="805.1999999999999" r="2.2" fill="#9c9c9c"/>
<circle cx="979.5" cy="761.5" r="1.3" fill="none" stroke="#888" stroke-width="0.5"/>
<circle cx="1035.5" cy="729.5" r="1.3" fill="none" stroke="#888" stroke-width="0.5"/>
<circle cx="1035.5" cy="775.5" r="1.3" fill="none" stroke="#888" stroke-width="0.5"/>
<text x="982.5" y="766" font-size="5.6" font-weight="bold" fill="#f4f4f4" transform="rotate(-29.9 982.5 766)" font-family="Liberation Mono" textLength="62" lengthAdjust="spacingAndGlyphs">IRS MASTER CAUTION</text>
</g>
<g fill="none" stroke="#111" stroke-width="1.3"><polyline points="1043,756.4 1170.4,756.4 1170.4,776"/><line x1="1113" y1="756.4" x2="1113" y2="776"/></g>
<circle cx="1113" cy="756.4" r="2.6" fill="#000"/>
<polygon points="1108,775.5 1118,775.5 1113,783.8" fill="#000"/><polygon points="1165.4,775.5 1175.4,775.5 1170.4,783.8" fill="#000"/>
<!-- ===== ANNUNCIATOR ===== -->
<g>
<rect x="1083.6" y="786.3" width="170.4" height="72.5" fill="#6b6b6b" stroke="#000" stroke-width="2"/>
<rect x="1091.5" y="797.9" width="42.7" height="41.8" fill="#ff9c00" stroke="#222" stroke-width="1"/>
<g font-size="8.3" fill="#2a1a00" text-anchor="middle"><text x="1112.8" y="809">MASTER</text><text x="1112.8" y="818.8" textLength="38" lengthAdjust="spacingAndGlyphs">CAUTION</text></g><text x="1112.8" y="829" font-size="3.8" fill="#333" text-anchor="middle">PUSH TO RESET</text>
<rect x="1141.5" y="794.5" width="108" height="53.6" fill="#b4b4b4" stroke="#2a2a2a" stroke-width="1"/>
<rect x="1145.5" y="797.9" width="48.5" height="14.8" fill="#000"/>
<rect x="1195.8" y="797.9" width="48.5" height="14.8" fill="#000"/>
<rect x="1145.5" y="814.3" width="48.5" height="14.8" fill="#000"/>
<rect x="1195.8" y="814.3" width="48.5" height="14.8" fill="#000"/>
<rect x="1145.5" y="830.6999999999999" width="48.5" height="14.8" fill="#000"/>
<rect x="1195.8" y="830.6999999999999" width="48.5" height="14.8" fill="#000"/>
<text x="1170.4" y="825.3" font-size="7.4" fill="#e8941e" text-anchor="middle">IRS</text>
</g>
<!-- ===== ADIRU UNIT ===== -->
<g>
<path d="M763.2,684.5 H771 V688.4 H824.9 V684.5 H832.3 V688.4 H885.6 V684.5 H893.5 V888.7 H850.8 Q842,888.7 837,897 Q833,906.2 828.2,906.2 Q823.4,906.2 819.4,897 Q814.4,888.7 805.7,888.7 H763.2 Z" fill="#000"/>
<path d="M765.5,705 Q765.5,702.6 768,702.6 H777 Q779,702.6 779,700 V693 Q779,690.5 781.5,690.5 H785.5 Q787.3,690.5 787.3,693 V848" fill="none" stroke="#8a8a8a" stroke-width="0.7"/>
<path d="M765.5,705 V812" fill="none" stroke="#8a8a8a" stroke-width="0.7"/>
<path d="M789,848 V693 Q789,690.5 791.5,690.5 H823.5 Q825.5,690.5 825.5,693 V700 Q825.5,703 828.5,703 Q831.5,703 831.5,700 V693 Q831.5,690.5 833.5,690.5 H865.5 Q867.8,690.5 867.8,693 V848" fill="none" stroke="#8a8a8a" stroke-width="0.7"/>
<path d="M868.9,848 V693 Q868.9,690.5 871,690.5 H875 Q877.5,690.5 877.5,693 V700 Q877.5,702.6 880,702.6 H888.8 Q891.4,702.6 891.4,705 V812" fill="none" stroke="#8a8a8a" stroke-width="0.7"/>
<circle cx="864.6" cy="716.3" r="5.6" fill="#000" stroke="#8a8a8a" stroke-width="0.7"/><circle cx="864.6" cy="716.3" r="3.8" fill="none" stroke="#aaa" stroke-width="0.7"/><circle cx="864.6" cy="716.3" r="1.8" fill="#bbb"/>
<circle cx="792" cy="821.7" r="5.6" fill="#000" stroke="#8a8a8a" stroke-width="0.7"/><circle cx="792" cy="821.7" r="3.8" fill="none" stroke="#aaa" stroke-width="0.7"/><circle cx="792" cy="821.7" r="1.8" fill="#bbb"/>
<path d="M796,731 H861 V804.7 Q861,806.7 859,806.7 H798 Q796,806.7 796,804.7 Z" fill="#fff"/>
<rect x="796" y="731" width="65" height="6.3" fill="#000"/>
<text x="828.5" y="737" font-size="7" fill="#000" stroke="#fff" stroke-width="0.5" text-anchor="middle" font-family="Liberation Mono" textLength="63" lengthAdjust="spacingAndGlyphs">HG2050 ADIRU</text>
<g font-family="Liberation Mono" font-size="4.6" fill="#111" text-anchor="middle"><text x="828.5" y="743.5">AIR DATA INERTIAL</text><text x="828.5" y="749.3">REFERENCE UNIT</text></g>
<line x1="796" y1="751.8" x2="861" y2="751.8" stroke="#000" stroke-width="0.8"/>
<text x="797.5" y="784.2" font-family="Liberation Mono" font-weight="bold" font-size="5.4" fill="#000">Honeywell</text>
<line x1="796" y1="787.3" x2="861" y2="787.3" stroke="#000" stroke-width="0.8"/><line x1="796" y1="799.6" x2="861" y2="799.6" stroke="#000" stroke-width="0.8"/>
<path d="M764.2,812.6 H772.6 V826 Q772.6,839.2 786,839.2 H870 Q883.8,839.2 883.8,826 V812.6 H892.3 V828 Q892.3,850 870,850 H786 Q764.2,850 764.2,828 Z" fill="#d8d8d8" stroke="#888" stroke-width="0.5"/>
<rect x="766" y="814" width="5" height="3" fill="#000"/><rect x="885.5" y="814" width="5" height="3" fill="#000"/>
<line x1="763.2" y1="851" x2="893.5" y2="851" stroke="#8a8a8a" stroke-width="0.7"/>
<rect x="771.4" y="858" width="10.9" height="30.7" fill="#d8d8d8"/><rect x="873.7" y="858" width="11.3" height="30.7" fill="#d8d8d8"/>
<circle cx="776.8" cy="866" r="1.5" fill="#b0b0b0"/>
<circle cx="776.8" cy="877.5" r="1.5" fill="#b0b0b0"/>
<circle cx="879.3" cy="866" r="1.5" fill="#b0b0b0"/>
<circle cx="879.3" cy="877.5" r="1.5" fill="#b0b0b0"/>
<path d="M788.4,888.7 V861 Q788.4,855 794.4,855 Q800.4,855 800.4,861 V888.7" fill="none" stroke="#8a8a8a" stroke-width="0.7"/>
<circle cx="794.4" cy="864.6" r="3.2" fill="#000" stroke="#ccc" stroke-width="0.7"/><circle cx="794.4" cy="864.6" r="1.5" fill="#ccc"/>
<circle cx="794.4" cy="875.4" r="3.2" fill="#000" stroke="#ccc" stroke-width="0.7"/><circle cx="794.4" cy="875.4" r="1.5" fill="#ccc"/>
<path d="M788.9,886 Q794.4,883 799.9,886" fill="none" stroke="#8a8a8a" stroke-width="0.6"/>
<path d="M856,888.7 V861 Q856,855 862,855 Q868,855 868,861 V888.7" fill="none" stroke="#8a8a8a" stroke-width="0.7"/>
<circle cx="862" cy="864.6" r="3.2" fill="#000" stroke="#ccc" stroke-width="0.7"/><circle cx="862" cy="864.6" r="1.5" fill="#ccc"/>
<circle cx="862" cy="875.4" r="3.2" fill="#000" stroke="#ccc" stroke-width="0.7"/><circle cx="862" cy="875.4" r="1.5" fill="#ccc"/>
<path d="M856.5,886 Q862,883 867.5,886" fill="none" stroke="#8a8a8a" stroke-width="0.6"/>
<circle cx="828.2" cy="897.3" r="5.5" fill="#777"/>
</g>
<!-- ===== LASER GYRO ===== -->
<defs><pattern id="hatch" patternUnits="userSpaceOnUse" width="2.3" height="2.3" patternTransform="rotate(40)"><rect width="2.3" height="2.3" fill="#d4d4d4"/><rect width="1.15" height="2.3" fill="#2a2a2a"/></pattern></defs>
<g stroke-linejoin="round">
<line x1="503.5" y1="723" x2="538.5" y2="709.5" stroke="#1e1e1e" stroke-width="8.1" stroke-linecap="butt"/><line x1="503.5" y1="723" x2="538.5" y2="709.5" stroke="#c4c4c4" stroke-width="6.5" stroke-linecap="butt"/>
<line x1="517.5" y1="708.8" x2="527" y2="732" stroke="#1e1e1e" stroke-width="13.1" stroke-linecap="round"/><line x1="517.5" y1="708.8" x2="527" y2="732" stroke="#c4c4c4" stroke-width="11.5" stroke-linecap="round"/><line x1="517.5" y1="708.8" x2="527" y2="732" stroke="#1e1e1e" stroke-width="8.3" stroke-linecap="round"/><line x1="517.5" y1="708.8" x2="527" y2="732" stroke="url(#hatch)" stroke-width="6.9" stroke-linecap="round"/>
<line x1="504.5" y1="827" x2="539.5" y2="840.5" stroke="#1e1e1e" stroke-width="8.1" stroke-linecap="butt"/><line x1="504.5" y1="827" x2="539.5" y2="840.5" stroke="#c4c4c4" stroke-width="6.5" stroke-linecap="butt"/>
<line x1="519.8" y1="841" x2="529" y2="818" stroke="#1e1e1e" stroke-width="13.1" stroke-linecap="round"/><line x1="519.8" y1="841" x2="529" y2="818" stroke="#c4c4c4" stroke-width="11.5" stroke-linecap="round"/><line x1="519.8" y1="841" x2="529" y2="818" stroke="#1e1e1e" stroke-width="8.3" stroke-linecap="round"/><line x1="519.8" y1="841" x2="529" y2="818" stroke="url(#hatch)" stroke-width="6.9" stroke-linecap="round"/>
<line x1="607" y1="751.5" x2="607" y2="797.5" stroke="#1e1e1e" stroke-width="9.6" stroke-linecap="butt"/><line x1="607" y1="751.5" x2="607" y2="797.5" stroke="#c4c4c4" stroke-width="8" stroke-linecap="butt"/>
<line x1="600" y1="774.4" x2="621" y2="774.4" stroke="#1e1e1e" stroke-width="28.6" stroke-linecap="round"/><line x1="600" y1="774.4" x2="621" y2="774.4" stroke="#c4c4c4" stroke-width="27" stroke-linecap="round"/><line x1="600" y1="774.4" x2="621" y2="774.4" stroke="#1e1e1e" stroke-width="23.8" stroke-linecap="round"/><line x1="600" y1="774.4" x2="621" y2="774.4" stroke="url(#hatch)" stroke-width="22.4" stroke-linecap="round"/>
<polygon points="450.0,757.7 578.5,699.9 602.4,712.5 602.4,838.0 580.0,852.0 450.0,790.4" fill="#c4c4c4" stroke="#1e1e1e" stroke-width="0.8"/>
<clipPath id="gyroclip"><polygon points="523.0,724.9 578.5,699.9 602.4,712.5 602.4,838.0 580.0,852.0 523.0,825.0"/></clipPath>
<clipPath id="bodyclip"><polygon points="450.0,757.7 578.5,699.9 602.4,712.5 602.4,838.0 580.0,852.0 450.0,790.4"/></clipPath>
<path d="M433.7,773.8 L594.4,701.5 L594.4,850.0 Z M457.5,774.0 L584.4,834.2 L584.4,717.0 Z" fill="url(#hatch)" fill-rule="evenodd" clip-path="url(#gyroclip)"/>
<polygon points="433.7,773.8 594.4,701.5 594.4,850.0" fill="none" stroke="#1e1e1e" stroke-width="0.7" clip-path="url(#bodyclip)"/>
<polygon points="457.5,774.0 584.4,717.0 584.4,834.2" fill="#c8c8c8" stroke="#1e1e1e" stroke-width="0.7"/>
<polygon points="450.0,766.5 525.0,732.7 525.0,737.1 450.0,770.9" fill="#fff"/>
<polygon points="450.0,781.5 525.0,817.1 525.0,812.7 450.0,777.1" fill="#fff"/>
<polygon points="450.0,766.5 463.0,765.0 497.6,764.0 497.6,785.4 463.0,783.3 450.0,781.5" fill="#fff"/>
<polygon points="450.0,764.0 497.6,764.0 497.6,785.4 450.0,785.4" fill="#fff"/>
<polyline points="480.5,764 497.6,764 497.6,785.4 480.5,785.4" fill="none" stroke="#1e1e1e" stroke-width="0.7"/>
<polyline points="463.0,764.0 525.0,737.1" fill="none" stroke="#1e1e1e" stroke-width="0.6"/>
<polyline points="463.0,785.4 525.0,812.7" fill="none" stroke="#1e1e1e" stroke-width="0.6"/>
<polyline points="523.0,733.6 523.0,744.6" stroke="#1e1e1e" stroke-width="0.6"/>
<polygon points="574.1,701.5 584.7,685.8 613,702.6 603,718.9 594,713" fill="#c4c4c4" stroke="#1e1e1e" stroke-width="0.8"/>
<line x1="586" y1="689" x2="610.5" y2="703.5" stroke="#555" stroke-width="0.5"/><line x1="585.5" y1="691" x2="609.5" y2="705.5" stroke="#555" stroke-width="0.5"/>
<rect x="585" y="696" width="5" height="5" fill="#c8c8c8" stroke="#333" stroke-width="0.5" transform="rotate(30 587.5 698.5)"/><rect x="597.5" y="704.5" width="5" height="5" fill="#c8c8c8" stroke="#333" stroke-width="0.5" transform="rotate(30 600 707)"/>
<polygon points="579,707 583,702 591,707 587,712" fill="url(#hatch)" stroke="#333" stroke-width="0.4"/><polygon points="593,711 597,706 604,711 600,716" fill="url(#hatch)" stroke="#333" stroke-width="0.4"/>
<polygon points="577.8,851 603,837.5 606.5,843 582,856.5" fill="#c4c4c4" stroke="#1e1e1e" stroke-width="0.8"/>
<polygon points="568,725.5 580.5,733 574.5,742.5 562,735" fill="#c8c8c8" stroke="#1e1e1e" stroke-width="0.6"/>
<polygon points="568,824.5 580.5,817 574.5,807.5 562,815" fill="#c8c8c8" stroke="#1e1e1e" stroke-width="0.6"/>
<circle cx="540.3" cy="775" r="28.8" fill="#c8c8c8" stroke="#1e1e1e" stroke-width="0.8"/>
<circle cx="540.3" cy="775" r="26" fill="#e2e2e2" stroke="#1e1e1e" stroke-width="0.6"/>
<rect x="535.9" y="750.5" width="3.4" height="17" rx="1.6" fill="#a8a8a8" stroke="#1e1e1e" stroke-width="0.5"/>
<rect x="541.3" y="750.5" width="3.4" height="17" rx="1.6" fill="#a8a8a8" stroke="#1e1e1e" stroke-width="0.5"/>
<rect x="535.9" y="782.5" width="3.4" height="17" rx="1.6" fill="#a8a8a8" stroke="#1e1e1e" stroke-width="0.5"/>
<rect x="541.3" y="782.5" width="3.4" height="17" rx="1.6" fill="#a8a8a8" stroke="#1e1e1e" stroke-width="0.5"/>
<rect x="515.8" y="770.6" width="17" height="3.4" rx="1.6" fill="#a8a8a8" stroke="#1e1e1e" stroke-width="0.5"/>
<rect x="515.8" y="776.0" width="17" height="3.4" rx="1.6" fill="#a8a8a8" stroke="#1e1e1e" stroke-width="0.5"/>
<rect x="547.8" y="770.6" width="17" height="3.4" rx="1.6" fill="#a8a8a8" stroke="#1e1e1e" stroke-width="0.5"/>
<rect x="547.8" y="776.0" width="17" height="3.4" rx="1.6" fill="#a8a8a8" stroke="#1e1e1e" stroke-width="0.5"/>
<path d="M517.3,770.0 A23.5,23.5 0 0 1 535.3,752.0 M545.3,752.0 A23.5,23.5 0 0 1 563.3,770.0 M563.3,780.0 A23.5,23.5 0 0 1 545.3,798.0 M535.3,798.0 A23.5,23.5 0 0 1 517.3,780.0" fill="none" stroke="#1e1e1e" stroke-width="0.6"/>
<circle cx="527.3" cy="761.5" r="2.1" fill="#fff" stroke="#444" stroke-width="0.5"/>
<circle cx="553.3" cy="761.5" r="2.1" fill="#fff" stroke="#444" stroke-width="0.5"/>
<circle cx="527.3" cy="788.5" r="2.1" fill="#fff" stroke="#444" stroke-width="0.5"/>
<circle cx="553.3" cy="788.5" r="2.1" fill="#fff" stroke="#444" stroke-width="0.5"/>
<rect x="441.4" y="758.9" width="7" height="32.2" fill="#b4b4b4" stroke="#1e1e1e" stroke-width="0.8"/>
<path d="M426,760 L429,757.5 L437,760.5 L435.5,768 L430,768.5 Z" fill="#9a9a9a" stroke="#1e1e1e" stroke-width="0.7"/><rect x="433" y="783" width="5" height="8" fill="#9a9a9a" stroke="#1e1e1e" stroke-width="0.6"/>
<circle cx="429" cy="779.5" r="3.6" fill="none" stroke="#1e1e1e" stroke-width="0.9"/>
<polyline points="450,774.6 589.5,710 589.5,839.5 450,774.6" fill="none" stroke="#f0141a" stroke-width="1"/>
<polyline points="434,765.5 448,774.6 428.5,782" fill="none" stroke="#f0141a" stroke-width="0.9"/><line x1="432" y1="782" x2="446" y2="776.5" stroke="#f0141a" stroke-width="0.8"/>
</g>
<!-- ===== ACCELEROMETER ===== -->
<g stroke="#161616" stroke-width="1.1" stroke-linejoin="round" fill="#c8d2d6">
<polygon points="645.5,703.6 645.5,715.1 651.6,720.6 694.5,734.5 712.1,732.1 712.7,713.9 675.8,709.7"/>
<polyline points="651.6,708.5 651.6,720.6" fill="none" stroke-width="0.8"/><polyline points="694.5,716.9 694.5,734.5" fill="none" stroke-width="0.8"/>
<polyline points="670.3,713.3 676.4,715.7 682.4,713.9" fill="none" stroke-width="0.8"/>
<path d="M701.8,643.1 Q711.4,636.5 721.1,637.7 Q729.6,643.1 732.6,656.5 Q734.4,668.5 731.4,677.0 L726.0,675.8 Z"/>
<path d="M624.4,681.9 L619.5,673.4 Q611.7,655.2 613.5,645.0 Q616.5,633.5 626.2,632.3 L635.2,634.7 L626.2,649.2 Z"/>
<path d="M625.6,633.5 Q623.1,641.9 624.4,649.2" fill="none" stroke-width="0.9"/>
<polygon points="624.4,648.6 635.2,635.6 655.8,631.0 667.9,633.2 730.2,649.8 731.4,703.6 709.0,709.7 676.4,711.5 653.4,707.3 625.0,699.4"/>
<polyline points="629.8,649.8 631.0,699.4" fill="none" stroke-width="0.8"/>
<polyline points="624.4,648.6 629.8,649.8 635.2,635.6" fill="none" stroke-width="0.8"/>
<polyline points="650.4,633.5 651.0,637.1 729.6,651.0" fill="none" stroke-width="0.8"/>
<polyline points="648.5,638.9 682.4,644.4" fill="none" stroke-width="0.9"/>
<polyline points="634.6,647.4 665.5,687.3 667.9,697.6 676.4,704.2 709.0,702.4 719.9,667.3" fill="none" stroke-width="1"/>
<polyline points="631.0,650.4 661.9,687.9 664.3,698.2 672.7,705.4 676.4,711.5" fill="none" stroke-width="0.8"/>
<polyline points="676.4,711.5 675.8,705.4" fill="none" stroke-width="0.7"/>
<path d="M644.9,678.2 Q646.7,676.4 649.2,678.2 L658.2,684.3 L657.6,696.4 Q657.0,698.2 654.6,697.6 L646.1,694.6 Q643.7,693.3 643.7,690.9 Z"/>
<polyline points="649.2,681.9 649.8,692.7 655.8,693.9 656.4,685.5" fill="none" stroke-width="0.7"/>
<polygon points="665.5,648.6 680.0,651.6 681.2,664.3 666.7,663.7" fill="#e6e6e6"/>
<ellipse cx="680.6" cy="657.9" rx="4" ry="6.7" fill="#ececec"/>
<polygon points="655.8,644.4 662.5,643.7 667.3,648.0 667.3,664.9 662.5,666.7 655.8,664.9 654.6,655.2" fill="#7e7e7e"/>
<polyline points="661.9,645.0 661.9,665.5" fill="none" stroke-width="0.7"/>
<polygon points="661.9,678.2 677.6,673.4 682.4,685.5 669.1,690.3" fill="#e6e6e6"/>
<path d="M661.9,678.2 Q665.5,683.1 669.1,690.3" fill="none" stroke-width="0.8"/>
<polygon points="673.9,669.8 682.4,667.3 688.5,671.0 692.7,679.4 690.3,684.3 684.2,686.1 680.0,681.9" fill="#7e7e7e"/>
<polyline points="678.8,669.8 685.4,684.3" fill="none" stroke-width="0.7"/>
<polygon points="689.7,685.5 707.2,684.9 707.2,695.2 701.8,698.8 694.5,698.2 689.7,695.2" fill="#7e7e7e"/>
<rect x="693.1" y="671.6" width="12.6" height="14.5" fill="#e8e8e8"/>
<ellipse cx="699.2" cy="671.6" rx="6.3" ry="2.2" fill="#f4f4f4"/>
<ellipse cx="681.8" cy="701.8" rx="6.5" ry="2.8"/>
<ellipse cx="703.0" cy="703.0" rx="6.5" ry="2.6"/>
</g>
<!-- ===== LABELS ===== -->
<g font-size="12.6" fill="#111">
<text x="14.4" y="309.3">ISDU PANEL</text>
<text x="14" y="491.9">MODE SELECT UNIT</text>
<text x="897.4" y="207.6">IRS TRANSFER</text>
<text x="897.4" y="221.6">SWITCH</text>
<text x="1061.8" y="698.2">RADIO MAGNETIC</text>
<text x="1061.8" y="711.8">INDICATOR</text>
<text x="977.2" y="829.4" text-anchor="middle">IRS MASTER</text>
<text x="977.2" y="843.6" text-anchor="middle">CAUTION UNIT</text>
<text x="1083.2" y="873">LEFT MASTER CAUTION</text>
<text x="1083.2" y="886.9">ANNUNCIATOR (2)</text>
<text x="481.9" y="865">LASER GYRO</text>
<text x="633.2" y="751.3">ACCELEROMETER</text>
</g>
<g font-size="12.6" fill="#1a1aff">
<text x="34.8" y="728">CDU (2)</text>
<text x="210" y="693">FMC(S)</text>
<text x="827.8" y="373.8">DEU (2)</text>
<text x="1040.8" y="237.5">DISPLAY UNIT</text>
<text x="1040.8" y="487.5">DISPLAY UNIT</text>
</g>
<text x="766.7" y="930.6" font-size="19.1" font-weight="bold" fill="#000">AIR DATA INERTIAL REFERENCE SYSTEM (34-21/22)</text>
<g font-size="9.55" fill="#111">
<text x="34.1" y="945.8">USE FOR TRAINING ONLY. DO NOT USE FOR MAINTENANCE</text>
<text x="457.2" y="945.8">EXPORT CONTROLLED: 9E991</text>
<text x="727.4" y="945.8">BOEING PROPRIETARY, CONFIDENTIAL, AND/OR TRADE SECRET - Copyright 1995 - 2010 - Boeing. All Rights Reserved</text>
<text transform="translate(13.2,946.3) rotate(-90)">737-6789_0080_0001_V3</text>
</g>

</svg>
</body></html>
